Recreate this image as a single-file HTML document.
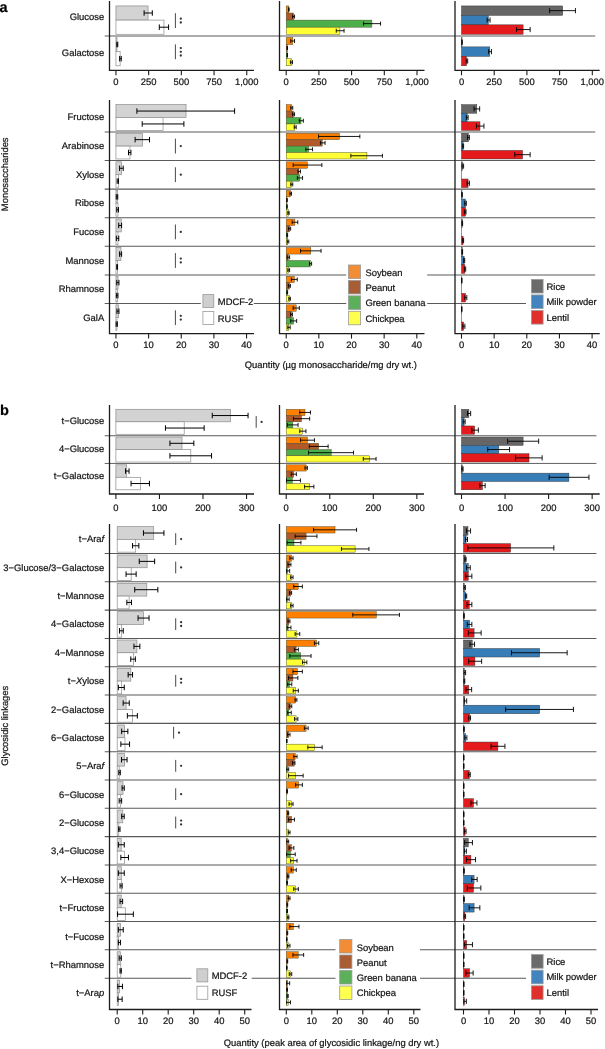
<!DOCTYPE html>
<html><head><meta charset="utf-8"><title>Figure</title>
<style>
html,body{margin:0;padding:0;background:#fff;}
body{width:605px;height:1049px;overflow:hidden;font-family:"Liberation Sans",sans-serif;}
svg{display:block;will-change:transform;}
svg text{font-family:"Liberation Sans",sans-serif;font-size:9.42px;fill:#151515;stroke:#151515;stroke-width:0.22px;text-rendering:geometricPrecision;}
</style></head><body>
<svg width="605" height="1049" viewBox="0 0 605 1049">
<rect width="605" height="1049" fill="#fff"/>
<line x1="104.7" x2="595.2" y1="35.95" y2="35.95" stroke="#5a5a5a" stroke-width="1.05"/>
<line x1="104.7" x2="595.2" y1="131.9" y2="131.9" stroke="#5a5a5a" stroke-width="1.05"/>
<line x1="104.7" x2="595.2" y1="160.5" y2="160.5" stroke="#5a5a5a" stroke-width="1.05"/>
<line x1="104.7" x2="595.2" y1="189.1" y2="189.1" stroke="#5a5a5a" stroke-width="1.05"/>
<line x1="104.7" x2="595.2" y1="217.7" y2="217.7" stroke="#5a5a5a" stroke-width="1.05"/>
<line x1="104.7" x2="595.2" y1="246.3" y2="246.3" stroke="#5a5a5a" stroke-width="1.05"/>
<line x1="104.7" x2="595.2" y1="274.9" y2="274.9" stroke="#5a5a5a" stroke-width="1.05"/>
<line x1="104.7" x2="595.2" y1="303.5" y2="303.5" stroke="#5a5a5a" stroke-width="1.05"/>
<line x1="104.7" x2="596.4" y1="435.7" y2="435.7" stroke="#5a5a5a" stroke-width="1.05"/>
<line x1="104.7" x2="596.4" y1="463.45" y2="463.45" stroke="#3a3a3a" stroke-width="0.8"/>
<line x1="104.7" x2="596.4" y1="553.5" y2="553.5" stroke="#5a5a5a" stroke-width="1.05"/>
<line x1="104.7" x2="596.4" y1="581.81" y2="581.81" stroke="#5a5a5a" stroke-width="1.05"/>
<line x1="104.7" x2="596.4" y1="610.12" y2="610.12" stroke="#5a5a5a" stroke-width="1.05"/>
<line x1="104.7" x2="596.4" y1="638.43" y2="638.43" stroke="#5a5a5a" stroke-width="1.05"/>
<line x1="104.7" x2="596.4" y1="666.74" y2="666.74" stroke="#5a5a5a" stroke-width="1.05"/>
<line x1="104.7" x2="596.4" y1="695.05" y2="695.05" stroke="#5a5a5a" stroke-width="1.05"/>
<line x1="104.7" x2="596.4" y1="723.36" y2="723.36" stroke="#5a5a5a" stroke-width="1.05"/>
<line x1="104.7" x2="596.4" y1="751.67" y2="751.67" stroke="#5a5a5a" stroke-width="1.05"/>
<line x1="104.7" x2="596.4" y1="779.98" y2="779.98" stroke="#5a5a5a" stroke-width="1.05"/>
<line x1="104.7" x2="596.4" y1="808.29" y2="808.29" stroke="#5a5a5a" stroke-width="1.05"/>
<line x1="104.7" x2="596.4" y1="836.6" y2="836.6" stroke="#5a5a5a" stroke-width="1.05"/>
<line x1="104.7" x2="596.4" y1="864.91" y2="864.91" stroke="#5a5a5a" stroke-width="1.05"/>
<line x1="104.7" x2="596.4" y1="893.22" y2="893.22" stroke="#5a5a5a" stroke-width="1.05"/>
<line x1="104.7" x2="596.4" y1="921.53" y2="921.53" stroke="#5a5a5a" stroke-width="1.05"/>
<line x1="104.7" x2="596.4" y1="949.84" y2="949.84" stroke="#5a5a5a" stroke-width="1.05"/>
<line x1="104.7" x2="596.4" y1="978.15" y2="978.15" stroke="#5a5a5a" stroke-width="1.05"/>
<rect x="200.8" y="291.6" width="53" height="37.8" fill="#fff"/>
<rect x="202.9" y="294.6" width="10.9" height="12.9" fill="#cfcfcf" stroke="#9a9a9a" stroke-width="0.8"/>
<text x="217.8" y="304.7">MDCF-2</text>
<rect x="202.9" y="311.5" width="10.9" height="12.9" fill="#ffffff" stroke="#9a9a9a" stroke-width="0.8"/>
<text x="217.8" y="321.6">RUSF</text>
<rect x="346.2" y="262" width="81" height="65.72" fill="#fff"/>
<rect x="348.4" y="265" width="12.2" height="13.5" fill="#F28D35" stroke="#9a9a9a" stroke-width="0.8"/>
<text x="365.4" y="276.2">Soybean</text>
<rect x="348.4" y="280.43" width="12.2" height="13.5" fill="#A85D34" stroke="#9a9a9a" stroke-width="0.8"/>
<text x="365.4" y="291.33">Peanut</text>
<rect x="348.4" y="295.86" width="12.2" height="13.5" fill="#5DB05A" stroke="#9a9a9a" stroke-width="0.8"/>
<text x="365.4" y="306.46">Green banana</text>
<rect x="348.4" y="311.29" width="12.2" height="13.5" fill="#FFFF4F" stroke="#9a9a9a" stroke-width="0.8"/>
<text x="365.4" y="321.59">Chickpea</text>
<rect x="526" y="276.4" width="72" height="50.65" fill="#fff"/>
<rect x="531.4" y="279.4" width="11.7" height="13.6" fill="#6b6b6b" stroke="#9a9a9a" stroke-width="0.8"/>
<text x="546.5" y="289.6">Rice</text>
<rect x="531.4" y="294.95" width="11.7" height="13.6" fill="#4484BE" stroke="#9a9a9a" stroke-width="0.8"/>
<text x="546.5" y="305.15">Milk powder</text>
<rect x="531.4" y="310.5" width="11.7" height="13.6" fill="#E0302B" stroke="#9a9a9a" stroke-width="0.8"/>
<text x="546.5" y="320.7">Lentil</text>
<rect x="191.5" y="965.8" width="60.2" height="38.8" fill="#fff"/>
<rect x="196.9" y="968.8" width="10.9" height="13.1" fill="#cfcfcf" stroke="#9a9a9a" stroke-width="0.8"/>
<text x="211.7" y="979">MDCF-2</text>
<rect x="196.9" y="986.2" width="10.9" height="13.1" fill="#ffffff" stroke="#9a9a9a" stroke-width="0.8"/>
<text x="211.7" y="996.4">RUSF</text>
<rect x="335.5" y="936.5" width="84.5" height="66" fill="#fff"/>
<rect x="339.7" y="939.5" width="12.2" height="13.5" fill="#F28D35" stroke="#9a9a9a" stroke-width="0.8"/>
<text x="356.7" y="950.6">Soybean</text>
<rect x="339.7" y="955" width="12.2" height="13.5" fill="#A85D34" stroke="#9a9a9a" stroke-width="0.8"/>
<text x="356.7" y="965.6">Peanut</text>
<rect x="339.7" y="970.5" width="12.2" height="13.5" fill="#5DB05A" stroke="#9a9a9a" stroke-width="0.8"/>
<text x="356.7" y="980.6">Green banana</text>
<rect x="339.7" y="986" width="12.2" height="13.5" fill="#FFFF4F" stroke="#9a9a9a" stroke-width="0.8"/>
<text x="356.7" y="995.6">Chickpea</text>
<rect x="526" y="951.6" width="72" height="50.8" fill="#fff"/>
<rect x="531.4" y="954.6" width="11.7" height="13.6" fill="#6b6b6b" stroke="#9a9a9a" stroke-width="0.8"/>
<text x="546.5" y="964.8">Rice</text>
<rect x="531.4" y="970.2" width="11.7" height="13.6" fill="#4484BE" stroke="#9a9a9a" stroke-width="0.8"/>
<text x="546.5" y="980.4">Milk powder</text>
<rect x="531.4" y="985.8" width="11.7" height="13.6" fill="#E0302B" stroke="#9a9a9a" stroke-width="0.8"/>
<text x="546.5" y="996">Lentil</text>
<rect x="115.95" y="5.93" width="32.1" height="14.18" fill="#d3d3d3" stroke="#8c8c8c" stroke-width="0.7"/>
<rect x="115.95" y="20.1" width="48" height="14.18" fill="#ffffff" stroke="#8c8c8c" stroke-width="0.7"/>
<rect x="115.95" y="37.42" width="1" height="14.18" fill="#d3d3d3" stroke="#8c8c8c" stroke-width="0.7"/>
<rect x="115.95" y="51.6" width="4.2" height="14.18" fill="#ffffff" stroke="#8c8c8c" stroke-width="0.7"/>
<path d="M144.1 13.01H152.3M144.1 10.26V15.76M152.3 10.26V15.76" stroke="#000" stroke-width="1.0" fill="none"/>
<path d="M159.3 27.19H168.6M159.3 24.44V29.94M168.6 24.44V29.94" stroke="#000" stroke-width="1.0" fill="none"/>
<path d="M116.85 44.51H117.75M116.85 41.76V47.26M117.75 41.76V47.26" stroke="#000" stroke-width="1.0" fill="none"/>
<path d="M119.65 58.69H121.25M119.65 55.94V61.44M121.25 55.94V61.44" stroke="#000" stroke-width="1.0" fill="none"/>
<rect x="286.2" y="5.93" width="2.6" height="7.09" fill="#FF7F00" stroke="#4a4a2a" stroke-width="0.45"/>
<rect x="286.2" y="13.01" width="7.4" height="7.09" fill="#B15928" stroke="#4a4a2a" stroke-width="0.45"/>
<rect x="286.2" y="20.1" width="85.7" height="7.09" fill="#4DAF4A" stroke="#4a4a2a" stroke-width="0.45"/>
<rect x="286.2" y="27.19" width="53.7" height="7.09" fill="#FFFF33" stroke="#4a4a2a" stroke-width="0.45"/>
<rect x="286.2" y="37.42" width="6.6" height="7.09" fill="#FF7F00" stroke="#4a4a2a" stroke-width="0.45"/>
<rect x="286.2" y="44.51" width="1" height="7.09" fill="#B15928" stroke="#4a4a2a" stroke-width="0.45"/>
<rect x="286.2" y="51.6" width="1" height="7.09" fill="#4DAF4A" stroke="#4a4a2a" stroke-width="0.45"/>
<rect x="286.2" y="58.69" width="5.3" height="7.09" fill="#FFFF33" stroke="#4a4a2a" stroke-width="0.45"/>
<path d="M288.6 9.47H289.1M288.6 7.47V11.47M289.1 7.47V11.47" stroke="#000" stroke-width="0.9" fill="none"/>
<path d="M292.55 16.56H294.55M292.55 14.56V18.56M294.55 14.56V18.56" stroke="#000" stroke-width="0.9" fill="none"/>
<path d="M363.55 23.64H380.55M363.55 21.64V25.64M380.55 21.64V25.64" stroke="#000" stroke-width="0.9" fill="none"/>
<path d="M336.25 30.73H344.05M336.25 28.73V32.73M344.05 28.73V32.73" stroke="#000" stroke-width="0.9" fill="none"/>
<path d="M290.75 40.97H294.55M290.75 38.97V42.97M294.55 38.97V42.97" stroke="#000" stroke-width="0.9" fill="none"/>
<path d="M287 48.06H287.5M287 46.06V50.06M287.5 46.06V50.06" stroke="#000" stroke-width="0.9" fill="none"/>
<path d="M287 55.14H287.5M287 53.14V57.14M287.5 53.14V57.14" stroke="#000" stroke-width="0.9" fill="none"/>
<path d="M290.4 62.23H292.5M290.4 60.23V64.23M292.5 60.23V64.23" stroke="#000" stroke-width="0.9" fill="none"/>
<rect x="461.5" y="5.93" width="101.2" height="9.45" fill="#666666" stroke="#333333" stroke-width="0.45"/>
<rect x="461.5" y="15.38" width="26.8" height="9.45" fill="#377EB8" stroke="#333333" stroke-width="0.45"/>
<rect x="461.5" y="24.83" width="61.6" height="9.45" fill="#E41A1C" stroke="#333333" stroke-width="0.45"/>
<rect x="461.5" y="37.42" width="0.5" height="9.45" fill="#666666" stroke="#333333" stroke-width="0.45"/>
<rect x="461.5" y="46.88" width="28.3" height="9.45" fill="#377EB8" stroke="#333333" stroke-width="0.45"/>
<rect x="461.5" y="56.33" width="5" height="9.45" fill="#E41A1C" stroke="#333333" stroke-width="0.45"/>
<path d="M549.65 10.65H575.45M549.65 8.05V13.25M575.45 8.05V13.25" stroke="#000" stroke-width="0.9" fill="none"/>
<path d="M487.15 20.1H490.05M487.15 17.5V22.7M490.05 17.5V22.7" stroke="#000" stroke-width="0.9" fill="none"/>
<path d="M516.55 29.55H530.15M516.55 26.95V32.15M530.15 26.95V32.15" stroke="#000" stroke-width="0.9" fill="none"/>
<path d="M461.8 42.15H462.3M461.8 39.55V44.75M462.3 39.55V44.75" stroke="#000" stroke-width="0.9" fill="none"/>
<path d="M488.65 51.6H491.45M488.65 49V54.2M491.45 49V54.2" stroke="#000" stroke-width="0.9" fill="none"/>
<path d="M466.2 61.05H467.7M466.2 58.45V63.65M467.7 58.45V63.65" stroke="#000" stroke-width="0.9" fill="none"/>
<path d="M109.5 1V70.3H254" stroke="#1c1c1c" stroke-width="1.3" fill="none"/>
<line x1="115.95" x2="115.95" y1="70.3" y2="75.3" stroke="#1c1c1c" stroke-width="1.1"/>
<text x="115.95" y="85.1" text-anchor="middle">0</text>
<line x1="148.65" x2="148.65" y1="70.3" y2="75.3" stroke="#1c1c1c" stroke-width="1.1"/>
<text x="148.65" y="85.1" text-anchor="middle">250</text>
<line x1="181.35" x2="181.35" y1="70.3" y2="75.3" stroke="#1c1c1c" stroke-width="1.1"/>
<text x="181.35" y="85.1" text-anchor="middle">500</text>
<line x1="214.05" x2="214.05" y1="70.3" y2="75.3" stroke="#1c1c1c" stroke-width="1.1"/>
<text x="214.05" y="85.1" text-anchor="middle">750</text>
<line x1="246.75" x2="246.75" y1="70.3" y2="75.3" stroke="#1c1c1c" stroke-width="1.1"/>
<text x="246.75" y="85.1" text-anchor="middle">1,000</text>
<path d="M279.5 1V70.3H424.5" stroke="#1c1c1c" stroke-width="1.3" fill="none"/>
<line x1="286.2" x2="286.2" y1="70.3" y2="75.3" stroke="#1c1c1c" stroke-width="1.1"/>
<text x="286.2" y="85.1" text-anchor="middle">0</text>
<line x1="318.9" x2="318.9" y1="70.3" y2="75.3" stroke="#1c1c1c" stroke-width="1.1"/>
<text x="318.9" y="85.1" text-anchor="middle">250</text>
<line x1="351.6" x2="351.6" y1="70.3" y2="75.3" stroke="#1c1c1c" stroke-width="1.1"/>
<text x="351.6" y="85.1" text-anchor="middle">500</text>
<line x1="384.3" x2="384.3" y1="70.3" y2="75.3" stroke="#1c1c1c" stroke-width="1.1"/>
<text x="384.3" y="85.1" text-anchor="middle">750</text>
<line x1="417" x2="417" y1="70.3" y2="75.3" stroke="#1c1c1c" stroke-width="1.1"/>
<text x="417" y="85.1" text-anchor="middle">1,000</text>
<path d="M455 1V70.3H599.7" stroke="#1c1c1c" stroke-width="1.3" fill="none"/>
<line x1="461.5" x2="461.5" y1="70.3" y2="75.3" stroke="#1c1c1c" stroke-width="1.1"/>
<text x="461.5" y="85.1" text-anchor="middle">0</text>
<line x1="494.2" x2="494.2" y1="70.3" y2="75.3" stroke="#1c1c1c" stroke-width="1.1"/>
<text x="494.2" y="85.1" text-anchor="middle">250</text>
<line x1="526.9" x2="526.9" y1="70.3" y2="75.3" stroke="#1c1c1c" stroke-width="1.1"/>
<text x="526.9" y="85.1" text-anchor="middle">500</text>
<line x1="559.6" x2="559.6" y1="70.3" y2="75.3" stroke="#1c1c1c" stroke-width="1.1"/>
<text x="559.6" y="85.1" text-anchor="middle">750</text>
<line x1="592.3" x2="592.3" y1="70.3" y2="75.3" stroke="#1c1c1c" stroke-width="1.1"/>
<text x="592.3" y="85.1" text-anchor="middle">1,000</text>
<text x="104.2" y="20.2" text-anchor="end">Glucose</text>
<text x="104.2" y="56" text-anchor="end">Galactose</text>
<rect x="115.95" y="104.63" width="70.1" height="12.87" fill="#d3d3d3" stroke="#8c8c8c" stroke-width="0.7"/>
<rect x="115.95" y="117.5" width="47.1" height="12.87" fill="#ffffff" stroke="#8c8c8c" stroke-width="0.7"/>
<rect x="115.95" y="133.23" width="26.5" height="12.87" fill="#d3d3d3" stroke="#8c8c8c" stroke-width="0.7"/>
<rect x="115.95" y="146.1" width="14" height="12.87" fill="#ffffff" stroke="#8c8c8c" stroke-width="0.7"/>
<rect x="115.95" y="161.83" width="5.5" height="12.87" fill="#d3d3d3" stroke="#8c8c8c" stroke-width="0.7"/>
<rect x="115.95" y="174.7" width="2.5" height="12.87" fill="#ffffff" stroke="#8c8c8c" stroke-width="0.7"/>
<rect x="115.95" y="190.43" width="1.5" height="12.87" fill="#d3d3d3" stroke="#8c8c8c" stroke-width="0.7"/>
<rect x="115.95" y="203.3" width="2" height="12.87" fill="#ffffff" stroke="#8c8c8c" stroke-width="0.7"/>
<rect x="115.95" y="219.03" width="5.3" height="12.87" fill="#d3d3d3" stroke="#8c8c8c" stroke-width="0.7"/>
<rect x="115.95" y="231.9" width="2" height="12.87" fill="#ffffff" stroke="#8c8c8c" stroke-width="0.7"/>
<rect x="115.95" y="247.63" width="5" height="12.87" fill="#d3d3d3" stroke="#8c8c8c" stroke-width="0.7"/>
<rect x="115.95" y="260.5" width="1.7" height="12.87" fill="#ffffff" stroke="#8c8c8c" stroke-width="0.7"/>
<rect x="115.95" y="276.23" width="2.1" height="12.87" fill="#d3d3d3" stroke="#8c8c8c" stroke-width="0.7"/>
<rect x="115.95" y="289.1" width="1.7" height="12.87" fill="#ffffff" stroke="#8c8c8c" stroke-width="0.7"/>
<rect x="115.95" y="304.83" width="2.4" height="12.87" fill="#d3d3d3" stroke="#8c8c8c" stroke-width="0.7"/>
<rect x="115.95" y="317.7" width="1" height="12.87" fill="#ffffff" stroke="#8c8c8c" stroke-width="0.7"/>
<path d="M136.9 111.06H234.6M136.9 108.31V113.81M234.6 108.31V113.81" stroke="#000" stroke-width="1.0" fill="none"/>
<path d="M142.2 123.94H183.9M142.2 121.19V126.69M183.9 121.19V126.69" stroke="#000" stroke-width="1.0" fill="none"/>
<path d="M135.1 139.66H149.5M135.1 136.91V142.41M149.5 136.91V142.41" stroke="#000" stroke-width="1.0" fill="none"/>
<path d="M128.5 152.53H130.9M128.5 149.78V155.28M130.9 149.78V155.28" stroke="#000" stroke-width="1.0" fill="none"/>
<path d="M119.6 168.26H123.2M119.6 165.51V171.01M123.2 165.51V171.01" stroke="#000" stroke-width="1.0" fill="none"/>
<path d="M117.15 181.13H118.45M117.15 178.38V183.88M118.45 178.38V183.88" stroke="#000" stroke-width="1.0" fill="none"/>
<path d="M116.25 196.87H117.75M116.25 194.12V199.62M117.75 194.12V199.62" stroke="#000" stroke-width="1.0" fill="none"/>
<path d="M116.75 209.74H118.45M116.75 206.99V212.49M118.45 206.99V212.49" stroke="#000" stroke-width="1.0" fill="none"/>
<path d="M118.7 225.47H121.6M118.7 222.72V228.22M121.6 222.72V228.22" stroke="#000" stroke-width="1.0" fill="none"/>
<path d="M116.35 238.34H118.75M116.35 235.59V241.09M118.75 235.59V241.09" stroke="#000" stroke-width="1.0" fill="none"/>
<path d="M119.6 254.06H121.6M119.6 251.31V256.81M121.6 251.31V256.81" stroke="#000" stroke-width="1.0" fill="none"/>
<path d="M116.75 266.94H117.55M116.75 264.19V269.69M117.55 264.19V269.69" stroke="#000" stroke-width="1.0" fill="none"/>
<path d="M116.75 282.67H118.95M116.75 279.92V285.42M118.95 279.92V285.42" stroke="#000" stroke-width="1.0" fill="none"/>
<path d="M116.35 295.54H117.95M116.35 292.79V298.29M117.95 292.79V298.29" stroke="#000" stroke-width="1.0" fill="none"/>
<path d="M116.95 311.27H118.95M116.95 308.52V314.02M118.95 308.52V314.02" stroke="#000" stroke-width="1.0" fill="none"/>
<path d="M116.15 324.14H117.35M116.15 321.39V326.89M117.35 321.39V326.89" stroke="#000" stroke-width="1.0" fill="none"/>
<rect x="286.2" y="104.63" width="5.3" height="6.44" fill="#FF7F00" stroke="#4a4a2a" stroke-width="0.45"/>
<rect x="286.2" y="111.06" width="7.4" height="6.44" fill="#B15928" stroke="#4a4a2a" stroke-width="0.45"/>
<rect x="286.2" y="117.5" width="14.8" height="6.44" fill="#4DAF4A" stroke="#4a4a2a" stroke-width="0.45"/>
<rect x="286.2" y="123.94" width="8.7" height="6.44" fill="#FFFF33" stroke="#4a4a2a" stroke-width="0.45"/>
<rect x="286.2" y="133.23" width="53.2" height="6.44" fill="#FF7F00" stroke="#4a4a2a" stroke-width="0.45"/>
<rect x="286.2" y="139.66" width="36" height="6.44" fill="#B15928" stroke="#4a4a2a" stroke-width="0.45"/>
<rect x="286.2" y="146.1" width="22.5" height="6.44" fill="#4DAF4A" stroke="#4a4a2a" stroke-width="0.45"/>
<rect x="286.2" y="152.53" width="80.7" height="6.44" fill="#FFFF33" stroke="#4a4a2a" stroke-width="0.45"/>
<rect x="286.2" y="161.83" width="21.2" height="6.44" fill="#FF7F00" stroke="#4a4a2a" stroke-width="0.45"/>
<rect x="286.2" y="168.26" width="12.7" height="6.44" fill="#B15928" stroke="#4a4a2a" stroke-width="0.45"/>
<rect x="286.2" y="174.7" width="13.5" height="6.44" fill="#4DAF4A" stroke="#4a4a2a" stroke-width="0.45"/>
<rect x="286.2" y="181.13" width="5.3" height="6.44" fill="#FFFF33" stroke="#4a4a2a" stroke-width="0.45"/>
<rect x="286.2" y="190.43" width="4.2" height="6.44" fill="#FF7F00" stroke="#4a4a2a" stroke-width="0.45"/>
<rect x="286.2" y="196.87" width="0.8" height="6.44" fill="#B15928" stroke="#4a4a2a" stroke-width="0.45"/>
<rect x="286.2" y="203.3" width="0.8" height="6.44" fill="#4DAF4A" stroke="#4a4a2a" stroke-width="0.45"/>
<rect x="286.2" y="209.74" width="2.1" height="6.44" fill="#FFFF33" stroke="#4a4a2a" stroke-width="0.45"/>
<rect x="286.2" y="219.03" width="8.7" height="6.44" fill="#FF7F00" stroke="#4a4a2a" stroke-width="0.45"/>
<rect x="286.2" y="225.47" width="3.4" height="6.44" fill="#B15928" stroke="#4a4a2a" stroke-width="0.45"/>
<rect x="286.2" y="231.9" width="1" height="6.44" fill="#4DAF4A" stroke="#4a4a2a" stroke-width="0.45"/>
<rect x="286.2" y="238.34" width="1.6" height="6.44" fill="#FFFF33" stroke="#4a4a2a" stroke-width="0.45"/>
<rect x="286.2" y="247.63" width="24.6" height="6.44" fill="#FF7F00" stroke="#4a4a2a" stroke-width="0.45"/>
<rect x="286.2" y="254.06" width="2.1" height="6.44" fill="#B15928" stroke="#4a4a2a" stroke-width="0.45"/>
<rect x="286.2" y="260.5" width="24" height="6.44" fill="#4DAF4A" stroke="#4a4a2a" stroke-width="0.45"/>
<rect x="286.2" y="266.94" width="2.1" height="6.44" fill="#FFFF33" stroke="#4a4a2a" stroke-width="0.45"/>
<rect x="286.2" y="276.23" width="8.2" height="6.44" fill="#FF7F00" stroke="#4a4a2a" stroke-width="0.45"/>
<rect x="286.2" y="282.67" width="3.4" height="6.44" fill="#B15928" stroke="#4a4a2a" stroke-width="0.45"/>
<rect x="286.2" y="289.1" width="1" height="6.44" fill="#4DAF4A" stroke="#4a4a2a" stroke-width="0.45"/>
<rect x="286.2" y="295.54" width="3.4" height="6.44" fill="#FFFF33" stroke="#4a4a2a" stroke-width="0.45"/>
<rect x="286.2" y="304.83" width="10" height="6.44" fill="#FF7F00" stroke="#4a4a2a" stroke-width="0.45"/>
<rect x="286.2" y="311.27" width="5.3" height="6.44" fill="#B15928" stroke="#4a4a2a" stroke-width="0.45"/>
<rect x="286.2" y="317.7" width="7.4" height="6.44" fill="#4DAF4A" stroke="#4a4a2a" stroke-width="0.45"/>
<rect x="286.2" y="324.14" width="2.6" height="6.44" fill="#FFFF33" stroke="#4a4a2a" stroke-width="0.45"/>
<path d="M290.75 107.85H292.75M290.75 105.85V109.85M292.75 105.85V109.85" stroke="#000" stroke-width="0.9" fill="none"/>
<path d="M292.55 114.28H294.55M292.55 112.28V116.28M294.55 112.28V116.28" stroke="#000" stroke-width="0.9" fill="none"/>
<path d="M299.25 120.72H303.35M299.25 118.72V122.72M303.35 118.72V122.72" stroke="#000" stroke-width="0.9" fill="none"/>
<path d="M294.2 127.15H296.2M294.2 125.15V129.15M296.2 125.15V129.15" stroke="#000" stroke-width="0.9" fill="none"/>
<path d="M318.55 136.45H359.85M318.55 134.45V138.45M359.85 134.45V138.45" stroke="#000" stroke-width="0.9" fill="none"/>
<path d="M320.45 142.88H325.05M320.45 140.88V144.88M325.05 140.88V144.88" stroke="#000" stroke-width="0.9" fill="none"/>
<path d="M305.85 149.32H312.55M305.85 147.32V151.32M312.55 147.32V151.32" stroke="#000" stroke-width="0.9" fill="none"/>
<path d="M350.85 155.75H382.45M350.85 153.75V157.75M382.45 153.75V157.75" stroke="#000" stroke-width="0.9" fill="none"/>
<path d="M293.15 165.05H321.85M293.15 163.05V167.05M321.85 163.05V167.05" stroke="#000" stroke-width="0.9" fill="none"/>
<path d="M297.95 171.48H300.45M297.95 169.48V173.48M300.45 169.48V173.48" stroke="#000" stroke-width="0.9" fill="none"/>
<path d="M297.35 177.92H302.55M297.35 175.92V179.92M302.55 175.92V179.92" stroke="#000" stroke-width="0.9" fill="none"/>
<path d="M290.75 184.35H292.75M290.75 182.35V186.35M292.75 182.35V186.35" stroke="#000" stroke-width="0.9" fill="none"/>
<path d="M289.9 193.65H291.5M289.9 191.65V195.65M291.5 191.65V195.65" stroke="#000" stroke-width="0.9" fill="none"/>
<path d="M286.8 200.08H287.2M286.8 198.08V202.08M287.2 198.08V202.08" stroke="#000" stroke-width="0.9" fill="none"/>
<path d="M286.8 206.52H287.2M286.8 204.52V208.52M287.2 204.52V208.52" stroke="#000" stroke-width="0.9" fill="none"/>
<path d="M287.8 212.95H289.1M287.8 210.95V214.95M289.1 210.95V214.95" stroke="#000" stroke-width="0.9" fill="none"/>
<path d="M292.15 222.25H297.75M292.15 220.25V224.25M297.75 220.25V224.25" stroke="#000" stroke-width="0.9" fill="none"/>
<path d="M288.65 228.68H290.65M288.65 226.68V230.68M290.65 226.68V230.68" stroke="#000" stroke-width="0.9" fill="none"/>
<path d="M286.8 235.12H287.6M286.8 233.12V237.12M287.6 233.12V237.12" stroke="#000" stroke-width="0.9" fill="none"/>
<path d="M287.2 241.55H288.8M287.2 239.55V243.55M288.8 239.55V243.55" stroke="#000" stroke-width="0.9" fill="none"/>
<path d="M300.55 250.85H321.05M300.55 248.85V252.85M321.05 248.85V252.85" stroke="#000" stroke-width="0.9" fill="none"/>
<path d="M287.2 257.28H289.6M287.2 255.28V259.28M289.6 255.28V259.28" stroke="#000" stroke-width="0.9" fill="none"/>
<path d="M309.5 263.72H311.6M309.5 261.72V265.72M311.6 261.72V265.72" stroke="#000" stroke-width="0.9" fill="none"/>
<path d="M287.8 270.15H289.6M287.8 268.15V272.15M289.6 268.15V272.15" stroke="#000" stroke-width="0.9" fill="none"/>
<path d="M291.35 279.45H297.25M291.35 277.45V281.45M297.25 277.45V281.45" stroke="#000" stroke-width="0.9" fill="none"/>
<path d="M288.3 285.88H290.4M288.3 283.88V287.88M290.4 283.88V287.88" stroke="#000" stroke-width="0.9" fill="none"/>
<path d="M286.8 292.32H287.6M286.8 290.32V294.32M287.6 290.32V294.32" stroke="#000" stroke-width="0.9" fill="none"/>
<path d="M288.8 298.75H290.4M288.8 296.75V300.75M290.4 296.75V300.75" stroke="#000" stroke-width="0.9" fill="none"/>
<path d="M293.15 308.05H299.35M293.15 306.05V310.05M299.35 306.05V310.05" stroke="#000" stroke-width="0.9" fill="none"/>
<path d="M290.55 314.48H292.45M290.55 312.48V316.48M292.45 312.48V316.48" stroke="#000" stroke-width="0.9" fill="none"/>
<path d="M290.75 320.92H296.65M290.75 318.92V322.92M296.65 318.92V322.92" stroke="#000" stroke-width="0.9" fill="none"/>
<path d="M287.8 327.35H290.2M287.8 325.35V329.35M290.2 325.35V329.35" stroke="#000" stroke-width="0.9" fill="none"/>
<rect x="461.5" y="104.63" width="15.3" height="8.58" fill="#666666" stroke="#333333" stroke-width="0.45"/>
<rect x="461.5" y="113.21" width="5.6" height="8.58" fill="#377EB8" stroke="#333333" stroke-width="0.45"/>
<rect x="461.5" y="121.79" width="18.5" height="8.58" fill="#E41A1C" stroke="#333333" stroke-width="0.45"/>
<rect x="461.5" y="133.23" width="6.9" height="8.58" fill="#666666" stroke="#333333" stroke-width="0.45"/>
<rect x="461.5" y="141.81" width="1.6" height="8.58" fill="#377EB8" stroke="#333333" stroke-width="0.45"/>
<rect x="461.5" y="150.39" width="61.1" height="8.58" fill="#E41A1C" stroke="#333333" stroke-width="0.45"/>
<rect x="461.5" y="161.83" width="1" height="8.58" fill="#666666" stroke="#333333" stroke-width="0.45"/>
<rect x="461.5" y="170.41" width="0.2" height="8.58" fill="#377EB8" stroke="#333333" stroke-width="0.45"/>
<rect x="461.5" y="178.99" width="6.6" height="8.58" fill="#E41A1C" stroke="#333333" stroke-width="0.45"/>
<rect x="461.5" y="190.43" width="0.5" height="8.58" fill="#666666" stroke="#333333" stroke-width="0.45"/>
<rect x="461.5" y="199.01" width="4" height="8.58" fill="#377EB8" stroke="#333333" stroke-width="0.45"/>
<rect x="461.5" y="207.59" width="4" height="8.58" fill="#E41A1C" stroke="#333333" stroke-width="0.45"/>
<rect x="461.5" y="219.03" width="0.8" height="8.58" fill="#666666" stroke="#333333" stroke-width="0.45"/>
<rect x="461.5" y="227.61" width="0.2" height="8.58" fill="#377EB8" stroke="#333333" stroke-width="0.45"/>
<rect x="461.5" y="236.19" width="1.6" height="8.58" fill="#E41A1C" stroke="#333333" stroke-width="0.45"/>
<rect x="461.5" y="247.63" width="0.8" height="8.58" fill="#666666" stroke="#333333" stroke-width="0.45"/>
<rect x="461.5" y="256.21" width="2.6" height="8.58" fill="#377EB8" stroke="#333333" stroke-width="0.45"/>
<rect x="461.5" y="264.79" width="3.4" height="8.58" fill="#E41A1C" stroke="#333333" stroke-width="0.45"/>
<rect x="461.5" y="276.23" width="0.3" height="8.58" fill="#666666" stroke="#333333" stroke-width="0.45"/>
<rect x="461.5" y="284.81" width="0.2" height="8.58" fill="#377EB8" stroke="#333333" stroke-width="0.45"/>
<rect x="461.5" y="293.39" width="4" height="8.58" fill="#E41A1C" stroke="#333333" stroke-width="0.45"/>
<rect x="461.5" y="304.83" width="0.3" height="8.58" fill="#666666" stroke="#333333" stroke-width="0.45"/>
<rect x="461.5" y="313.41" width="0.2" height="8.58" fill="#377EB8" stroke="#333333" stroke-width="0.45"/>
<rect x="461.5" y="321.99" width="2.1" height="8.58" fill="#E41A1C" stroke="#333333" stroke-width="0.45"/>
<path d="M474.05 108.92H479.65M474.05 106.32V111.52M479.65 106.32V111.52" stroke="#000" stroke-width="0.9" fill="none"/>
<path d="M466.3 117.5H468.1M466.3 114.9V120.1M468.1 114.9V120.1" stroke="#000" stroke-width="0.9" fill="none"/>
<path d="M476.45 126.08H483.95M476.45 123.48V128.68M483.95 123.48V128.68" stroke="#000" stroke-width="0.9" fill="none"/>
<path d="M467.45 137.52H469.35M467.45 134.92V140.12M469.35 134.92V140.12" stroke="#000" stroke-width="0.9" fill="none"/>
<path d="M462.3 146.1H463.6M462.3 143.5V148.7M463.6 143.5V148.7" stroke="#000" stroke-width="0.9" fill="none"/>
<path d="M514.75 154.68H530.15M514.75 152.08V157.28M530.15 152.08V157.28" stroke="#000" stroke-width="0.9" fill="none"/>
<path d="M462 166.12H463.6M462 163.52V168.72M463.6 163.52V168.72" stroke="#000" stroke-width="0.9" fill="none"/>
<path d="M467.1 183.28H469.4M467.1 180.68V185.88M469.4 180.68V185.88" stroke="#000" stroke-width="0.9" fill="none"/>
<path d="M461.8 194.72H462.3M461.8 192.12V197.32M462.3 192.12V197.32" stroke="#000" stroke-width="0.9" fill="none"/>
<path d="M464.7 203.3H466.3M464.7 200.7V205.9M466.3 200.7V205.9" stroke="#000" stroke-width="0.9" fill="none"/>
<path d="M464.4 211.88H466M464.4 209.28V214.48M466 209.28V214.48" stroke="#000" stroke-width="0.9" fill="none"/>
<path d="M461.9 223.32H462.6M461.9 220.72V225.92M462.6 220.72V225.92" stroke="#000" stroke-width="0.9" fill="none"/>
<path d="M462.3 240.48H463.6M462.3 237.88V243.08M463.6 237.88V243.08" stroke="#000" stroke-width="0.9" fill="none"/>
<path d="M461.9 251.92H462.6M461.9 249.32V254.52M462.6 249.32V254.52" stroke="#000" stroke-width="0.9" fill="none"/>
<path d="M463.6 260.5H464.7M463.6 257.9V263.1M464.7 257.9V263.1" stroke="#000" stroke-width="0.9" fill="none"/>
<path d="M464.4 269.08H465.7M464.4 266.48V271.68M465.7 266.48V271.68" stroke="#000" stroke-width="0.9" fill="none"/>
<path d="M461.6 280.52H462M461.6 277.92V283.12M462 277.92V283.12" stroke="#000" stroke-width="0.9" fill="none"/>
<path d="M464.7 297.68H466.8M464.7 295.08V300.28M466.8 295.08V300.28" stroke="#000" stroke-width="0.9" fill="none"/>
<path d="M461.6 309.12H462M461.6 306.52V311.72M462 306.52V311.72" stroke="#000" stroke-width="0.9" fill="none"/>
<path d="M462.8 326.28H464.9M462.8 323.68V328.88M464.9 323.68V328.88" stroke="#000" stroke-width="0.9" fill="none"/>
<path d="M109.5 100V333.6H254" stroke="#1c1c1c" stroke-width="1.3" fill="none"/>
<line x1="115.95" x2="115.95" y1="333.6" y2="338.6" stroke="#1c1c1c" stroke-width="1.1"/>
<text x="115.95" y="347.5" text-anchor="middle">0</text>
<line x1="148.6" x2="148.6" y1="333.6" y2="338.6" stroke="#1c1c1c" stroke-width="1.1"/>
<text x="148.6" y="347.5" text-anchor="middle">10</text>
<line x1="181.25" x2="181.25" y1="333.6" y2="338.6" stroke="#1c1c1c" stroke-width="1.1"/>
<text x="181.25" y="347.5" text-anchor="middle">20</text>
<line x1="213.9" x2="213.9" y1="333.6" y2="338.6" stroke="#1c1c1c" stroke-width="1.1"/>
<text x="213.9" y="347.5" text-anchor="middle">30</text>
<line x1="246.55" x2="246.55" y1="333.6" y2="338.6" stroke="#1c1c1c" stroke-width="1.1"/>
<text x="246.55" y="347.5" text-anchor="middle">40</text>
<path d="M279.5 100V333.6H424.5" stroke="#1c1c1c" stroke-width="1.3" fill="none"/>
<line x1="286.2" x2="286.2" y1="333.6" y2="338.6" stroke="#1c1c1c" stroke-width="1.1"/>
<text x="286.2" y="347.5" text-anchor="middle">0</text>
<line x1="318.85" x2="318.85" y1="333.6" y2="338.6" stroke="#1c1c1c" stroke-width="1.1"/>
<text x="318.85" y="347.5" text-anchor="middle">10</text>
<line x1="351.5" x2="351.5" y1="333.6" y2="338.6" stroke="#1c1c1c" stroke-width="1.1"/>
<text x="351.5" y="347.5" text-anchor="middle">20</text>
<line x1="384.15" x2="384.15" y1="333.6" y2="338.6" stroke="#1c1c1c" stroke-width="1.1"/>
<text x="384.15" y="347.5" text-anchor="middle">30</text>
<line x1="416.8" x2="416.8" y1="333.6" y2="338.6" stroke="#1c1c1c" stroke-width="1.1"/>
<text x="416.8" y="347.5" text-anchor="middle">40</text>
<path d="M455 100V333.6H599.7" stroke="#1c1c1c" stroke-width="1.3" fill="none"/>
<line x1="461.5" x2="461.5" y1="333.6" y2="338.6" stroke="#1c1c1c" stroke-width="1.1"/>
<text x="461.5" y="347.5" text-anchor="middle">0</text>
<line x1="494.15" x2="494.15" y1="333.6" y2="338.6" stroke="#1c1c1c" stroke-width="1.1"/>
<text x="494.15" y="347.5" text-anchor="middle">10</text>
<line x1="526.8" x2="526.8" y1="333.6" y2="338.6" stroke="#1c1c1c" stroke-width="1.1"/>
<text x="526.8" y="347.5" text-anchor="middle">20</text>
<line x1="559.45" x2="559.45" y1="333.6" y2="338.6" stroke="#1c1c1c" stroke-width="1.1"/>
<text x="559.45" y="347.5" text-anchor="middle">30</text>
<line x1="592.1" x2="592.1" y1="333.6" y2="338.6" stroke="#1c1c1c" stroke-width="1.1"/>
<text x="592.1" y="347.5" text-anchor="middle">40</text>
<text x="104.2" y="120.1" text-anchor="end">Fructose</text>
<text x="104.2" y="149.1" text-anchor="end">Arabinose</text>
<text x="104.2" y="177.7" text-anchor="end">Xylose</text>
<text x="104.2" y="206.4" text-anchor="end">Ribose</text>
<text x="104.2" y="235.05" text-anchor="end">Fucose</text>
<text x="104.2" y="263.7" text-anchor="end">Mannose</text>
<text x="104.2" y="292.35" text-anchor="end">Rhamnose</text>
<text x="104.2" y="321" text-anchor="end">GalA</text>
<rect x="115.9" y="409.31" width="114.6" height="12.49" fill="#d3d3d3" stroke="#8c8c8c" stroke-width="0.7"/>
<rect x="115.9" y="421.8" width="68.3" height="12.49" fill="#ffffff" stroke="#8c8c8c" stroke-width="0.7"/>
<rect x="115.9" y="437.06" width="66.1" height="12.49" fill="#d3d3d3" stroke="#8c8c8c" stroke-width="0.7"/>
<rect x="115.9" y="449.55" width="74.9" height="12.49" fill="#ffffff" stroke="#8c8c8c" stroke-width="0.7"/>
<rect x="115.9" y="464.81" width="10.8" height="12.49" fill="#d3d3d3" stroke="#8c8c8c" stroke-width="0.7"/>
<rect x="115.9" y="477.3" width="24.6" height="12.49" fill="#ffffff" stroke="#8c8c8c" stroke-width="0.7"/>
<path d="M212.25 415.56H248.05M212.25 412.81V418.31M248.05 412.81V418.31" stroke="#000" stroke-width="1.0" fill="none"/>
<path d="M165.45 428.04H204.15M165.45 425.29V430.79M204.15 425.29V430.79" stroke="#000" stroke-width="1.0" fill="none"/>
<path d="M169.95 443.31H193.85M169.95 440.56V446.06M193.85 440.56V446.06" stroke="#000" stroke-width="1.0" fill="none"/>
<path d="M169.95 455.79H211.55M169.95 453.04V458.54M211.55 453.04V458.54" stroke="#000" stroke-width="1.0" fill="none"/>
<path d="M125.55 471.06H129.05M125.55 468.31V473.81M129.05 468.31V473.81" stroke="#000" stroke-width="1.0" fill="none"/>
<path d="M131.05 483.54H149.45M131.05 480.79V486.29M149.45 480.79V486.29" stroke="#000" stroke-width="1.0" fill="none"/>
<rect x="286.2" y="409.31" width="18.8" height="6.24" fill="#FF7F00" stroke="#4a4a2a" stroke-width="0.45"/>
<rect x="286.2" y="415.56" width="15.3" height="6.24" fill="#B15928" stroke="#4a4a2a" stroke-width="0.45"/>
<rect x="286.2" y="421.8" width="6.6" height="6.24" fill="#4DAF4A" stroke="#4a4a2a" stroke-width="0.45"/>
<rect x="286.2" y="428.04" width="16.1" height="6.24" fill="#FFFF33" stroke="#4a4a2a" stroke-width="0.45"/>
<rect x="286.2" y="437.06" width="21.2" height="6.24" fill="#FF7F00" stroke="#4a4a2a" stroke-width="0.45"/>
<rect x="286.2" y="443.31" width="32.5" height="6.24" fill="#B15928" stroke="#4a4a2a" stroke-width="0.45"/>
<rect x="286.2" y="449.55" width="45" height="6.24" fill="#4DAF4A" stroke="#4a4a2a" stroke-width="0.45"/>
<rect x="286.2" y="455.79" width="83.3" height="6.24" fill="#FFFF33" stroke="#4a4a2a" stroke-width="0.45"/>
<rect x="286.2" y="464.81" width="20.1" height="6.24" fill="#FF7F00" stroke="#4a4a2a" stroke-width="0.45"/>
<rect x="286.2" y="471.06" width="7.5" height="6.24" fill="#B15928" stroke="#4a4a2a" stroke-width="0.45"/>
<rect x="286.2" y="477.3" width="6.1" height="6.24" fill="#4DAF4A" stroke="#4a4a2a" stroke-width="0.45"/>
<rect x="286.2" y="483.54" width="23.3" height="6.24" fill="#FFFF33" stroke="#4a4a2a" stroke-width="0.45"/>
<path d="M299.75 412.43H310.45M299.75 410.43V414.43M310.45 410.43V414.43" stroke="#000" stroke-width="0.9" fill="none"/>
<path d="M293.45 418.68H309.65M293.45 416.68V420.68M309.65 416.68V420.68" stroke="#000" stroke-width="0.9" fill="none"/>
<path d="M287.35 424.92H298.05M287.35 422.92V426.92M298.05 422.92V426.92" stroke="#000" stroke-width="0.9" fill="none"/>
<path d="M299.75 431.17H305.95M299.75 429.17V433.17M305.95 429.17V433.17" stroke="#000" stroke-width="0.9" fill="none"/>
<path d="M300.55 440.18H314.45M300.55 438.18V442.18M314.45 438.18V442.18" stroke="#000" stroke-width="0.9" fill="none"/>
<path d="M309.35 446.43H328.15M309.35 444.43V448.43M328.15 444.43V448.43" stroke="#000" stroke-width="0.9" fill="none"/>
<path d="M308.55 452.67H353.55M308.55 450.67V454.67M353.55 450.67V454.67" stroke="#000" stroke-width="0.9" fill="none"/>
<path d="M363.25 458.92H376.05M363.25 456.92V460.92M376.05 456.92V460.92" stroke="#000" stroke-width="0.9" fill="none"/>
<path d="M305 467.93H307.4M305 465.93V469.93M307.4 465.93V469.93" stroke="#000" stroke-width="0.9" fill="none"/>
<path d="M291.25 474.18H296.35M291.25 472.18V476.18M296.35 472.18V476.18" stroke="#000" stroke-width="0.9" fill="none"/>
<path d="M286.55 480.42H300.45M286.55 478.42V482.42M300.45 478.42V482.42" stroke="#000" stroke-width="0.9" fill="none"/>
<path d="M304.55 486.67H313.85M304.55 484.67V488.67M313.85 484.67V488.67" stroke="#000" stroke-width="0.9" fill="none"/>
<rect x="461.5" y="409.31" width="7.4" height="8.33" fill="#666666" stroke="#333333" stroke-width="0.45"/>
<rect x="461.5" y="417.64" width="2.6" height="8.33" fill="#377EB8" stroke="#333333" stroke-width="0.45"/>
<rect x="461.5" y="425.96" width="13.2" height="8.33" fill="#E41A1C" stroke="#333333" stroke-width="0.45"/>
<rect x="461.5" y="437.06" width="61.6" height="8.33" fill="#666666" stroke="#333333" stroke-width="0.45"/>
<rect x="461.5" y="445.39" width="37.3" height="8.33" fill="#377EB8" stroke="#333333" stroke-width="0.45"/>
<rect x="461.5" y="453.71" width="67.5" height="8.33" fill="#E41A1C" stroke="#333333" stroke-width="0.45"/>
<rect x="461.5" y="464.81" width="0.8" height="8.33" fill="#666666" stroke="#333333" stroke-width="0.45"/>
<rect x="461.5" y="473.14" width="107.4" height="8.33" fill="#377EB8" stroke="#333333" stroke-width="0.45"/>
<rect x="461.5" y="481.46" width="20.9" height="8.33" fill="#E41A1C" stroke="#333333" stroke-width="0.45"/>
<path d="M467.45 413.48H470.65M467.45 410.88V416.08M470.65 410.88V416.08" stroke="#000" stroke-width="0.9" fill="none"/>
<path d="M463.15 421.8H465.15M463.15 419.2V424.4M465.15 419.2V424.4" stroke="#000" stroke-width="0.9" fill="none"/>
<path d="M471.85 430.12H478.35M471.85 427.52V432.73M478.35 427.52V432.73" stroke="#000" stroke-width="0.9" fill="none"/>
<path d="M507.65 441.23H538.65M507.65 438.62V443.83M538.65 438.62V443.83" stroke="#000" stroke-width="0.9" fill="none"/>
<path d="M487.75 449.55H509.55M487.75 446.95V452.15M509.55 446.95V452.15" stroke="#000" stroke-width="0.9" fill="none"/>
<path d="M515.55 457.88H542.15M515.55 455.27V460.48M542.15 455.27V460.48" stroke="#000" stroke-width="0.9" fill="none"/>
<path d="M461.8 468.98H463.1M461.8 466.38V471.58M463.1 466.38V471.58" stroke="#000" stroke-width="0.9" fill="none"/>
<path d="M549.15 477.3H588.95M549.15 474.7V479.9M588.95 474.7V479.9" stroke="#000" stroke-width="0.9" fill="none"/>
<path d="M479.85 485.62H485.15M479.85 483.02V488.23M485.15 483.02V488.23" stroke="#000" stroke-width="0.9" fill="none"/>
<path d="M109.5 405V494H254" stroke="#1c1c1c" stroke-width="1.3" fill="none"/>
<line x1="115.9" x2="115.9" y1="494" y2="499" stroke="#1c1c1c" stroke-width="1.1"/>
<text x="115.9" y="510.5" text-anchor="middle">0</text>
<line x1="159.45" x2="159.45" y1="494" y2="499" stroke="#1c1c1c" stroke-width="1.1"/>
<text x="159.45" y="510.5" text-anchor="middle">100</text>
<line x1="203" x2="203" y1="494" y2="499" stroke="#1c1c1c" stroke-width="1.1"/>
<text x="203" y="510.5" text-anchor="middle">200</text>
<line x1="246.55" x2="246.55" y1="494" y2="499" stroke="#1c1c1c" stroke-width="1.1"/>
<text x="246.55" y="510.5" text-anchor="middle">300</text>
<path d="M279.5 405V494H424" stroke="#1c1c1c" stroke-width="1.3" fill="none"/>
<line x1="286.2" x2="286.2" y1="494" y2="499" stroke="#1c1c1c" stroke-width="1.1"/>
<text x="286.2" y="510.5" text-anchor="middle">0</text>
<line x1="329.75" x2="329.75" y1="494" y2="499" stroke="#1c1c1c" stroke-width="1.1"/>
<text x="329.75" y="510.5" text-anchor="middle">100</text>
<line x1="373.3" x2="373.3" y1="494" y2="499" stroke="#1c1c1c" stroke-width="1.1"/>
<text x="373.3" y="510.5" text-anchor="middle">200</text>
<line x1="416.85" x2="416.85" y1="494" y2="499" stroke="#1c1c1c" stroke-width="1.1"/>
<text x="416.85" y="510.5" text-anchor="middle">300</text>
<path d="M455 405V494H599.7" stroke="#1c1c1c" stroke-width="1.3" fill="none"/>
<line x1="461.5" x2="461.5" y1="494" y2="499" stroke="#1c1c1c" stroke-width="1.1"/>
<text x="461.5" y="510.5" text-anchor="middle">0</text>
<line x1="505.05" x2="505.05" y1="494" y2="499" stroke="#1c1c1c" stroke-width="1.1"/>
<text x="505.05" y="510.5" text-anchor="middle">100</text>
<line x1="548.6" x2="548.6" y1="494" y2="499" stroke="#1c1c1c" stroke-width="1.1"/>
<text x="548.6" y="510.5" text-anchor="middle">200</text>
<line x1="592.15" x2="592.15" y1="494" y2="499" stroke="#1c1c1c" stroke-width="1.1"/>
<text x="592.15" y="510.5" text-anchor="middle">300</text>
<text x="104.2" y="424.2" text-anchor="end">t−Glucose</text>
<text x="104.2" y="451.55" text-anchor="end">4−Glucose</text>
<text x="104.2" y="479.25" text-anchor="end">t−Galactose</text>
<rect x="117.2" y="526.65" width="36.5" height="12.75" fill="#d3d3d3" stroke="#8c8c8c" stroke-width="0.7"/>
<rect x="117.2" y="539.4" width="18.5" height="12.75" fill="#ffffff" stroke="#8c8c8c" stroke-width="0.7"/>
<rect x="117.2" y="554.99" width="29.9" height="12.75" fill="#d3d3d3" stroke="#8c8c8c" stroke-width="0.7"/>
<rect x="117.2" y="567.74" width="14" height="12.75" fill="#ffffff" stroke="#8c8c8c" stroke-width="0.7"/>
<rect x="117.2" y="583.33" width="29.6" height="12.75" fill="#d3d3d3" stroke="#8c8c8c" stroke-width="0.7"/>
<rect x="117.2" y="596.08" width="11.9" height="12.75" fill="#ffffff" stroke="#8c8c8c" stroke-width="0.7"/>
<rect x="117.2" y="611.67" width="26.4" height="12.75" fill="#d3d3d3" stroke="#8c8c8c" stroke-width="0.7"/>
<rect x="117.2" y="624.42" width="4.5" height="12.75" fill="#ffffff" stroke="#8c8c8c" stroke-width="0.7"/>
<rect x="117.2" y="640.01" width="19.7" height="12.75" fill="#d3d3d3" stroke="#8c8c8c" stroke-width="0.7"/>
<rect x="117.2" y="652.76" width="16.4" height="12.75" fill="#ffffff" stroke="#8c8c8c" stroke-width="0.7"/>
<rect x="117.2" y="668.35" width="13.6" height="12.75" fill="#d3d3d3" stroke="#8c8c8c" stroke-width="0.7"/>
<rect x="117.2" y="681.1" width="4.5" height="12.75" fill="#ffffff" stroke="#8c8c8c" stroke-width="0.7"/>
<rect x="117.2" y="696.69" width="8.9" height="12.75" fill="#d3d3d3" stroke="#8c8c8c" stroke-width="0.7"/>
<rect x="117.2" y="709.44" width="15.2" height="12.75" fill="#ffffff" stroke="#8c8c8c" stroke-width="0.7"/>
<rect x="117.2" y="725.03" width="7.4" height="12.75" fill="#d3d3d3" stroke="#8c8c8c" stroke-width="0.7"/>
<rect x="117.2" y="737.78" width="7.8" height="12.75" fill="#ffffff" stroke="#8c8c8c" stroke-width="0.7"/>
<rect x="117.2" y="753.37" width="7.4" height="12.75" fill="#d3d3d3" stroke="#8c8c8c" stroke-width="0.7"/>
<rect x="117.2" y="766.12" width="2" height="12.75" fill="#ffffff" stroke="#8c8c8c" stroke-width="0.7"/>
<rect x="117.2" y="781.71" width="5.8" height="12.75" fill="#d3d3d3" stroke="#8c8c8c" stroke-width="0.7"/>
<rect x="117.2" y="794.46" width="3.3" height="12.75" fill="#ffffff" stroke="#8c8c8c" stroke-width="0.7"/>
<rect x="117.2" y="810.05" width="5.6" height="12.75" fill="#d3d3d3" stroke="#8c8c8c" stroke-width="0.7"/>
<rect x="117.2" y="822.8" width="1.6" height="12.75" fill="#ffffff" stroke="#8c8c8c" stroke-width="0.7"/>
<rect x="117.2" y="838.39" width="4" height="12.75" fill="#d3d3d3" stroke="#8c8c8c" stroke-width="0.7"/>
<rect x="117.2" y="851.14" width="7.4" height="12.75" fill="#ffffff" stroke="#8c8c8c" stroke-width="0.7"/>
<rect x="117.2" y="866.73" width="4.1" height="12.75" fill="#d3d3d3" stroke="#8c8c8c" stroke-width="0.7"/>
<rect x="117.2" y="879.48" width="4.1" height="12.75" fill="#ffffff" stroke="#8c8c8c" stroke-width="0.7"/>
<rect x="117.2" y="895.07" width="4" height="12.75" fill="#d3d3d3" stroke="#8c8c8c" stroke-width="0.7"/>
<rect x="117.2" y="907.82" width="8.1" height="12.75" fill="#ffffff" stroke="#8c8c8c" stroke-width="0.7"/>
<rect x="117.2" y="923.41" width="3.3" height="12.75" fill="#d3d3d3" stroke="#8c8c8c" stroke-width="0.7"/>
<rect x="117.2" y="936.16" width="1.5" height="12.75" fill="#ffffff" stroke="#8c8c8c" stroke-width="0.7"/>
<rect x="117.2" y="951.75" width="3.1" height="12.75" fill="#d3d3d3" stroke="#8c8c8c" stroke-width="0.7"/>
<rect x="117.2" y="964.5" width="3.6" height="12.75" fill="#ffffff" stroke="#8c8c8c" stroke-width="0.7"/>
<rect x="117.2" y="980.09" width="2.3" height="12.75" fill="#d3d3d3" stroke="#8c8c8c" stroke-width="0.7"/>
<rect x="117.2" y="992.84" width="1.2" height="12.75" fill="#ffffff" stroke="#8c8c8c" stroke-width="0.7"/>
<path d="M143.45 533.02H163.95M143.45 530.27V535.77M163.95 530.27V535.77" stroke="#000" stroke-width="1.0" fill="none"/>
<path d="M132.55 545.78H138.85M132.55 543.03V548.53M138.85 543.03V548.53" stroke="#000" stroke-width="1.0" fill="none"/>
<path d="M139.25 561.36H154.65M139.25 558.61V564.11M154.65 558.61V564.11" stroke="#000" stroke-width="1.0" fill="none"/>
<path d="M126.05 574.12H136.15M126.05 571.37V576.87M136.15 571.37V576.87" stroke="#000" stroke-width="1.0" fill="none"/>
<path d="M134.75 589.7H157.85M134.75 586.95V592.45M157.85 586.95V592.45" stroke="#000" stroke-width="1.0" fill="none"/>
<path d="M126.85 602.46H131.45M126.85 599.71V605.21M131.45 599.71V605.21" stroke="#000" stroke-width="1.0" fill="none"/>
<path d="M138.05 618.04H149.05M138.05 615.29V620.79M149.05 615.29V620.79" stroke="#000" stroke-width="1.0" fill="none"/>
<path d="M119.55 630.8H123.25M119.55 628.05V633.55M123.25 628.05V633.55" stroke="#000" stroke-width="1.0" fill="none"/>
<path d="M133.95 646.38H139.85M133.95 643.63V649.13M139.85 643.63V649.13" stroke="#000" stroke-width="1.0" fill="none"/>
<path d="M130.75 659.14H135.35M130.75 656.39V661.89M135.35 656.39V661.89" stroke="#000" stroke-width="1.0" fill="none"/>
<path d="M128.15 674.72H132.55M128.15 671.97V677.47M132.55 671.97V677.47" stroke="#000" stroke-width="1.0" fill="none"/>
<path d="M118.35 687.48H124.25M118.35 684.73V690.23M124.25 684.73V690.23" stroke="#000" stroke-width="1.0" fill="none"/>
<path d="M123.15 703.06H129.25M123.15 700.31V705.81M129.25 700.31V705.81" stroke="#000" stroke-width="1.0" fill="none"/>
<path d="M127.35 715.82H137.35M127.35 713.07V718.57M137.35 713.07V718.57" stroke="#000" stroke-width="1.0" fill="none"/>
<path d="M121.65 731.4H127.85M121.65 728.65V734.15M127.85 728.65V734.15" stroke="#000" stroke-width="1.0" fill="none"/>
<path d="M120.85 744.16H129.55M120.85 741.41V746.91M129.55 741.41V746.91" stroke="#000" stroke-width="1.0" fill="none"/>
<path d="M121.55 759.74H127.05M121.55 756.99V762.49M127.05 756.99V762.49" stroke="#000" stroke-width="1.0" fill="none"/>
<path d="M118.8 772.5H120.3M118.8 769.75V775.25M120.3 769.75V775.25" stroke="#000" stroke-width="1.0" fill="none"/>
<path d="M122.05 788.08H124.25M122.05 785.33V790.83M124.25 785.33V790.83" stroke="#000" stroke-width="1.0" fill="none"/>
<path d="M119.15 800.84H121.65M119.15 798.09V803.59M121.65 798.09V803.59" stroke="#000" stroke-width="1.0" fill="none"/>
<path d="M121.7 816.42H124.2M121.7 813.67V819.17M124.2 813.67V819.17" stroke="#000" stroke-width="1.0" fill="none"/>
<path d="M118.7 829.18H120M118.7 826.43V831.93M120 826.43V831.93" stroke="#000" stroke-width="1.0" fill="none"/>
<path d="M118.35 844.76H124.25M118.35 842.01V847.51M124.25 842.01V847.51" stroke="#000" stroke-width="1.0" fill="none"/>
<path d="M120.85 857.52H128.45M120.85 854.77V860.27M128.45 854.77V860.27" stroke="#000" stroke-width="1.0" fill="none"/>
<path d="M118.35 873.1H124.25M118.35 870.35V875.85M124.25 870.35V875.85" stroke="#000" stroke-width="1.0" fill="none"/>
<path d="M120.05 885.86H122.15M120.05 883.11V888.61M122.15 883.11V888.61" stroke="#000" stroke-width="1.0" fill="none"/>
<path d="M120.05 901.44H122.65M120.05 898.69V904.19M122.65 898.69V904.19" stroke="#000" stroke-width="1.0" fill="none"/>
<path d="M117.55 914.2H133.35M117.55 911.45V916.95M133.35 911.45V916.95" stroke="#000" stroke-width="1.0" fill="none"/>
<path d="M118.35 929.78H123.25M118.35 927.03V932.53M123.25 927.03V932.53" stroke="#000" stroke-width="1.0" fill="none"/>
<path d="M118.35 942.54H120.45M118.35 939.79V945.29M120.45 939.79V945.29" stroke="#000" stroke-width="1.0" fill="none"/>
<path d="M119.15 958.12H121.35M119.15 955.37V960.87M121.35 955.37V960.87" stroke="#000" stroke-width="1.0" fill="none"/>
<path d="M120 970.88H121.3M120 968.13V973.63M121.3 968.13V973.63" stroke="#000" stroke-width="1.0" fill="none"/>
<path d="M117.85 986.46H122.45M117.85 983.71V989.21M122.45 983.71V989.21" stroke="#000" stroke-width="1.0" fill="none"/>
<path d="M117.85 999.22H122.15M117.85 996.47V1001.97M122.15 996.47V1001.97" stroke="#000" stroke-width="1.0" fill="none"/>
<rect x="286.3" y="526.65" width="48.7" height="6.38" fill="#FF7F00" stroke="#4a4a2a" stroke-width="0.45"/>
<rect x="286.3" y="533.02" width="19.8" height="6.38" fill="#B15928" stroke="#4a4a2a" stroke-width="0.45"/>
<rect x="286.3" y="539.4" width="7.7" height="6.38" fill="#4DAF4A" stroke="#4a4a2a" stroke-width="0.45"/>
<rect x="286.3" y="545.78" width="68.8" height="6.38" fill="#FFFF33" stroke="#4a4a2a" stroke-width="0.45"/>
<rect x="286.3" y="554.99" width="5.3" height="6.38" fill="#FF7F00" stroke="#4a4a2a" stroke-width="0.45"/>
<rect x="286.3" y="561.36" width="3.2" height="6.38" fill="#B15928" stroke="#4a4a2a" stroke-width="0.45"/>
<rect x="286.3" y="567.74" width="1" height="6.38" fill="#4DAF4A" stroke="#4a4a2a" stroke-width="0.45"/>
<rect x="286.3" y="574.12" width="5.3" height="6.38" fill="#FFFF33" stroke="#4a4a2a" stroke-width="0.45"/>
<rect x="286.3" y="583.33" width="11.9" height="6.38" fill="#FF7F00" stroke="#4a4a2a" stroke-width="0.45"/>
<rect x="286.3" y="589.7" width="4.5" height="6.38" fill="#B15928" stroke="#4a4a2a" stroke-width="0.45"/>
<rect x="286.3" y="596.08" width="1" height="6.38" fill="#4DAF4A" stroke="#4a4a2a" stroke-width="0.45"/>
<rect x="286.3" y="602.46" width="5.3" height="6.38" fill="#FFFF33" stroke="#4a4a2a" stroke-width="0.45"/>
<rect x="286.3" y="611.67" width="90" height="6.38" fill="#FF7F00" stroke="#4a4a2a" stroke-width="0.45"/>
<rect x="286.3" y="618.04" width="2.6" height="6.38" fill="#B15928" stroke="#4a4a2a" stroke-width="0.45"/>
<rect x="286.3" y="624.42" width="1.9" height="6.38" fill="#4DAF4A" stroke="#4a4a2a" stroke-width="0.45"/>
<rect x="286.3" y="630.8" width="10.6" height="6.38" fill="#FFFF33" stroke="#4a4a2a" stroke-width="0.45"/>
<rect x="286.3" y="640.01" width="30.2" height="6.38" fill="#FF7F00" stroke="#4a4a2a" stroke-width="0.45"/>
<rect x="286.3" y="646.38" width="9.8" height="6.38" fill="#B15928" stroke="#4a4a2a" stroke-width="0.45"/>
<rect x="286.3" y="652.76" width="14.3" height="6.38" fill="#4DAF4A" stroke="#4a4a2a" stroke-width="0.45"/>
<rect x="286.3" y="659.14" width="18.3" height="6.38" fill="#FFFF33" stroke="#4a4a2a" stroke-width="0.45"/>
<rect x="286.3" y="668.35" width="11.1" height="6.38" fill="#FF7F00" stroke="#4a4a2a" stroke-width="0.45"/>
<rect x="286.3" y="674.72" width="6.6" height="6.38" fill="#B15928" stroke="#4a4a2a" stroke-width="0.45"/>
<rect x="286.3" y="681.1" width="3.2" height="6.38" fill="#4DAF4A" stroke="#4a4a2a" stroke-width="0.45"/>
<rect x="286.3" y="687.48" width="9.3" height="6.38" fill="#FFFF33" stroke="#4a4a2a" stroke-width="0.45"/>
<rect x="286.3" y="696.69" width="9.3" height="6.38" fill="#FF7F00" stroke="#4a4a2a" stroke-width="0.45"/>
<rect x="286.3" y="703.06" width="4" height="6.38" fill="#B15928" stroke="#4a4a2a" stroke-width="0.45"/>
<rect x="286.3" y="709.44" width="2.6" height="6.38" fill="#4DAF4A" stroke="#4a4a2a" stroke-width="0.45"/>
<rect x="286.3" y="715.82" width="9.8" height="6.38" fill="#FFFF33" stroke="#4a4a2a" stroke-width="0.45"/>
<rect x="286.3" y="725.03" width="19.8" height="6.38" fill="#FF7F00" stroke="#4a4a2a" stroke-width="0.45"/>
<rect x="286.3" y="731.4" width="2.4" height="6.38" fill="#B15928" stroke="#4a4a2a" stroke-width="0.45"/>
<rect x="286.3" y="737.78" width="0.5" height="6.38" fill="#4DAF4A" stroke="#4a4a2a" stroke-width="0.45"/>
<rect x="286.3" y="744.16" width="28.3" height="6.38" fill="#FFFF33" stroke="#4a4a2a" stroke-width="0.45"/>
<rect x="286.3" y="753.37" width="9" height="6.38" fill="#FF7F00" stroke="#4a4a2a" stroke-width="0.45"/>
<rect x="286.3" y="759.74" width="7.9" height="6.38" fill="#B15928" stroke="#4a4a2a" stroke-width="0.45"/>
<rect x="286.3" y="766.12" width="1" height="6.38" fill="#4DAF4A" stroke="#4a4a2a" stroke-width="0.45"/>
<rect x="286.3" y="772.5" width="9" height="6.38" fill="#FFFF33" stroke="#4a4a2a" stroke-width="0.45"/>
<rect x="286.3" y="781.71" width="12.4" height="6.38" fill="#FF7F00" stroke="#4a4a2a" stroke-width="0.45"/>
<rect x="286.3" y="788.08" width="0.8" height="6.38" fill="#B15928" stroke="#4a4a2a" stroke-width="0.45"/>
<rect x="286.3" y="794.46" width="0.3" height="6.38" fill="#4DAF4A" stroke="#4a4a2a" stroke-width="0.45"/>
<rect x="286.3" y="800.84" width="5" height="6.38" fill="#FFFF33" stroke="#4a4a2a" stroke-width="0.45"/>
<rect x="286.3" y="810.05" width="1.9" height="6.38" fill="#FF7F00" stroke="#4a4a2a" stroke-width="0.45"/>
<rect x="286.3" y="816.42" width="5.3" height="6.38" fill="#B15928" stroke="#4a4a2a" stroke-width="0.45"/>
<rect x="286.3" y="822.8" width="0.3" height="6.38" fill="#4DAF4A" stroke="#4a4a2a" stroke-width="0.45"/>
<rect x="286.3" y="829.18" width="2.4" height="6.38" fill="#FFFF33" stroke="#4a4a2a" stroke-width="0.45"/>
<rect x="286.3" y="838.39" width="1" height="6.38" fill="#FF7F00" stroke="#4a4a2a" stroke-width="0.45"/>
<rect x="286.3" y="844.76" width="5" height="6.38" fill="#B15928" stroke="#4a4a2a" stroke-width="0.45"/>
<rect x="286.3" y="851.14" width="4" height="6.38" fill="#4DAF4A" stroke="#4a4a2a" stroke-width="0.45"/>
<rect x="286.3" y="857.52" width="7.1" height="6.38" fill="#FFFF33" stroke="#4a4a2a" stroke-width="0.45"/>
<rect x="286.3" y="866.73" width="7.1" height="6.38" fill="#FF7F00" stroke="#4a4a2a" stroke-width="0.45"/>
<rect x="286.3" y="873.1" width="1.9" height="6.38" fill="#B15928" stroke="#4a4a2a" stroke-width="0.45"/>
<rect x="286.3" y="879.48" width="0.8" height="6.38" fill="#4DAF4A" stroke="#4a4a2a" stroke-width="0.45"/>
<rect x="286.3" y="885.86" width="9.3" height="6.38" fill="#FFFF33" stroke="#4a4a2a" stroke-width="0.45"/>
<rect x="286.3" y="895.07" width="2.6" height="6.38" fill="#FF7F00" stroke="#4a4a2a" stroke-width="0.45"/>
<rect x="286.3" y="901.44" width="1" height="6.38" fill="#B15928" stroke="#4a4a2a" stroke-width="0.45"/>
<rect x="286.3" y="907.82" width="0.8" height="6.38" fill="#4DAF4A" stroke="#4a4a2a" stroke-width="0.45"/>
<rect x="286.3" y="914.2" width="1.9" height="6.38" fill="#FFFF33" stroke="#4a4a2a" stroke-width="0.45"/>
<rect x="286.3" y="923.41" width="7.1" height="6.38" fill="#FF7F00" stroke="#4a4a2a" stroke-width="0.45"/>
<rect x="286.3" y="929.78" width="1" height="6.38" fill="#B15928" stroke="#4a4a2a" stroke-width="0.45"/>
<rect x="286.3" y="936.16" width="0.5" height="6.38" fill="#4DAF4A" stroke="#4a4a2a" stroke-width="0.45"/>
<rect x="286.3" y="942.54" width="1.9" height="6.38" fill="#FFFF33" stroke="#4a4a2a" stroke-width="0.45"/>
<rect x="286.3" y="951.75" width="11.9" height="6.38" fill="#FF7F00" stroke="#4a4a2a" stroke-width="0.45"/>
<rect x="286.3" y="958.12" width="1" height="6.38" fill="#B15928" stroke="#4a4a2a" stroke-width="0.45"/>
<rect x="286.3" y="964.5" width="0.5" height="6.38" fill="#4DAF4A" stroke="#4a4a2a" stroke-width="0.45"/>
<rect x="286.3" y="970.88" width="4" height="6.38" fill="#FFFF33" stroke="#4a4a2a" stroke-width="0.45"/>
<rect x="286.3" y="980.09" width="1.3" height="6.38" fill="#FF7F00" stroke="#4a4a2a" stroke-width="0.45"/>
<rect x="286.3" y="986.46" width="0.8" height="6.38" fill="#B15928" stroke="#4a4a2a" stroke-width="0.45"/>
<rect x="286.3" y="992.84" width="1.3" height="6.38" fill="#4DAF4A" stroke="#4a4a2a" stroke-width="0.45"/>
<rect x="286.3" y="999.22" width="1.9" height="6.38" fill="#FFFF33" stroke="#4a4a2a" stroke-width="0.45"/>
<path d="M313.65 529.84H356.55M313.65 527.84V531.84M356.55 527.84V531.84" stroke="#000" stroke-width="0.9" fill="none"/>
<path d="M295.15 536.21H316.95M295.15 534.21V538.21M316.95 534.21V538.21" stroke="#000" stroke-width="0.9" fill="none"/>
<path d="M287.15 542.59H300.95M287.15 540.59V544.59M300.95 540.59V544.59" stroke="#000" stroke-width="0.9" fill="none"/>
<path d="M341.45 548.96H368.95M341.45 546.96V550.96M368.95 546.96V550.96" stroke="#000" stroke-width="0.9" fill="none"/>
<path d="M289.85 558.18H293.05M289.85 556.18V560.18M293.05 556.18V560.18" stroke="#000" stroke-width="0.9" fill="none"/>
<path d="M287.95 564.55H290.95M287.95 562.55V566.55M290.95 562.55V566.55" stroke="#000" stroke-width="0.9" fill="none"/>
<path d="M286.65 570.93H289.65M286.65 568.93V572.93M289.65 568.93V572.93" stroke="#000" stroke-width="0.9" fill="none"/>
<path d="M290.65 577.3H293.05M290.65 575.3V579.3M293.05 575.3V579.3" stroke="#000" stroke-width="0.9" fill="none"/>
<path d="M293.75 586.52H302.35M293.75 584.52V588.52M302.35 584.52V588.52" stroke="#000" stroke-width="0.9" fill="none"/>
<path d="M289.5 592.89H291.6M289.5 590.89V594.89M291.6 590.89V594.89" stroke="#000" stroke-width="0.9" fill="none"/>
<path d="M286.65 599.27H289.15M286.65 597.27V601.27M289.15 597.27V601.27" stroke="#000" stroke-width="0.9" fill="none"/>
<path d="M290.65 605.64H293.05M290.65 603.64V607.64M293.05 603.64V607.64" stroke="#000" stroke-width="0.9" fill="none"/>
<path d="M352.75 614.86H399.45M352.75 612.86V616.86M399.45 612.86V616.86" stroke="#000" stroke-width="0.9" fill="none"/>
<path d="M287.95 621.23H289.95M287.95 619.23V623.23M289.95 619.23V623.23" stroke="#000" stroke-width="0.9" fill="none"/>
<path d="M287.15 627.61H290.95M287.15 625.61V629.61M290.95 625.61V629.61" stroke="#000" stroke-width="0.9" fill="none"/>
<path d="M295.15 633.98H299.75M295.15 631.98V635.98M299.75 631.98V635.98" stroke="#000" stroke-width="0.9" fill="none"/>
<path d="M314.45 643.2H318.75M314.45 641.2V645.2M318.75 641.2V645.2" stroke="#000" stroke-width="0.9" fill="none"/>
<path d="M294.35 649.57H298.35M294.35 647.57V651.57M298.35 647.57V651.57" stroke="#000" stroke-width="0.9" fill="none"/>
<path d="M289.85 655.95H311.05M289.85 653.95V657.95M311.05 653.95V657.95" stroke="#000" stroke-width="0.9" fill="none"/>
<path d="M302.55 662.32H306.85M302.55 660.32V664.32M306.85 660.32V664.32" stroke="#000" stroke-width="0.9" fill="none"/>
<path d="M292.95 671.54H302.35M292.95 669.54V673.54M302.35 669.54V673.54" stroke="#000" stroke-width="0.9" fill="none"/>
<path d="M288.55 677.91H297.85M288.55 675.91V679.91M297.85 675.91V679.91" stroke="#000" stroke-width="0.9" fill="none"/>
<path d="M287.65 684.29H291.75M287.65 682.29V686.29M291.75 682.29V686.29" stroke="#000" stroke-width="0.9" fill="none"/>
<path d="M293.25 690.66H298.35M293.25 688.66V692.66M298.35 688.66V692.66" stroke="#000" stroke-width="0.9" fill="none"/>
<path d="M295 699.88H296.9M295 697.88V701.88M296.9 697.88V701.88" stroke="#000" stroke-width="0.9" fill="none"/>
<path d="M289.25 706.25H291.75M289.25 704.25V708.25M291.75 704.25V708.25" stroke="#000" stroke-width="0.9" fill="none"/>
<path d="M287.65 712.63H291.25M287.65 710.63V714.63M291.25 710.63V714.63" stroke="#000" stroke-width="0.9" fill="none"/>
<path d="M294.55 719H297.85M294.55 717V721M297.85 717V721" stroke="#000" stroke-width="0.9" fill="none"/>
<path d="M304.35 728.22H308.15M304.35 726.22V730.22M308.15 726.22V730.22" stroke="#000" stroke-width="0.9" fill="none"/>
<path d="M287.6 734.59H290M287.6 732.59V736.59M290 732.59V736.59" stroke="#000" stroke-width="0.9" fill="none"/>
<path d="M286.5 740.97H287.1M286.5 738.97V742.97M287.1 738.97V742.97" stroke="#000" stroke-width="0.9" fill="none"/>
<path d="M307.85 747.34H322.15M307.85 745.34V749.34M322.15 745.34V749.34" stroke="#000" stroke-width="0.9" fill="none"/>
<path d="M293.75 756.56H297.05M293.75 754.56V758.56M297.05 754.56V758.56" stroke="#000" stroke-width="0.9" fill="none"/>
<path d="M292.45 762.93H294.95M292.45 760.93V764.93M294.95 760.93V764.93" stroke="#000" stroke-width="0.9" fill="none"/>
<path d="M286.8 769.31H288.7M286.8 767.31V771.31M288.7 767.31V771.31" stroke="#000" stroke-width="0.9" fill="none"/>
<path d="M288.55 775.68H303.15M288.55 773.68V777.68M303.15 773.68V777.68" stroke="#000" stroke-width="0.9" fill="none"/>
<path d="M295.65 784.9H302.35M295.65 782.9V786.9M302.35 782.9V786.9" stroke="#000" stroke-width="0.9" fill="none"/>
<path d="M286.7 791.27H287.5M286.7 789.27V793.27M287.5 789.27V793.27" stroke="#000" stroke-width="0.9" fill="none"/>
<path d="M289.05 804.02H293.05M289.05 802.02V806.02M293.05 802.02V806.02" stroke="#000" stroke-width="0.9" fill="none"/>
<path d="M287.6 813.24H288.7M287.6 811.24V815.24M288.7 811.24V815.24" stroke="#000" stroke-width="0.9" fill="none"/>
<path d="M288.55 819.61H294.45M288.55 817.61V821.61M294.45 817.61V821.61" stroke="#000" stroke-width="0.9" fill="none"/>
<path d="M288.2 832.36H290M288.2 830.36V834.36M290 830.36V834.36" stroke="#000" stroke-width="0.9" fill="none"/>
<path d="M286.8 841.58H288.7M286.8 839.58V843.58M288.7 839.58V843.58" stroke="#000" stroke-width="0.9" fill="none"/>
<path d="M289.05 847.95H293.85M289.05 845.95V849.95M293.85 845.95V849.95" stroke="#000" stroke-width="0.9" fill="none"/>
<path d="M286.65 854.33H295.25M286.65 852.33V856.33M295.25 852.33V856.33" stroke="#000" stroke-width="0.9" fill="none"/>
<path d="M290.65 860.7H297.05M290.65 858.7V862.7M297.05 858.7V862.7" stroke="#000" stroke-width="0.9" fill="none"/>
<path d="M291.15 869.92H296.25M291.15 867.92V871.92M296.25 867.92V871.92" stroke="#000" stroke-width="0.9" fill="none"/>
<path d="M287.3 876.29H288.9M287.3 874.29V878.29M288.9 874.29V878.29" stroke="#000" stroke-width="0.9" fill="none"/>
<path d="M286.7 882.67H287.5M286.7 880.67V884.67M287.5 880.67V884.67" stroke="#000" stroke-width="0.9" fill="none"/>
<path d="M293.75 889.04H298.35M293.75 887.04V891.04M298.35 887.04V891.04" stroke="#000" stroke-width="0.9" fill="none"/>
<path d="M288.2 898.26H290M288.2 896.26V900.26M290 896.26V900.26" stroke="#000" stroke-width="0.9" fill="none"/>
<path d="M286.9 904.63H287.7M286.9 902.63V906.63M287.7 902.63V906.63" stroke="#000" stroke-width="0.9" fill="none"/>
<path d="M286.7 911.01H287.5M286.7 909.01V913.01M287.5 909.01V913.01" stroke="#000" stroke-width="0.9" fill="none"/>
<path d="M287.3 917.38H288.9M287.3 915.38V919.38M288.9 915.38V919.38" stroke="#000" stroke-width="0.9" fill="none"/>
<path d="M289.85 926.6H298.95M289.85 924.6V928.6M298.95 924.6V928.6" stroke="#000" stroke-width="0.9" fill="none"/>
<path d="M286.9 932.97H287.7M286.9 930.97V934.97M287.7 930.97V934.97" stroke="#000" stroke-width="0.9" fill="none"/>
<path d="M286.5 939.35H287.2M286.5 937.35V941.35M287.2 937.35V941.35" stroke="#000" stroke-width="0.9" fill="none"/>
<path d="M287.45 945.72H289.95M287.45 943.72V947.72M289.95 943.72V947.72" stroke="#000" stroke-width="0.9" fill="none"/>
<path d="M292.95 954.94H303.65M292.95 952.94V956.94M303.65 952.94V956.94" stroke="#000" stroke-width="0.9" fill="none"/>
<path d="M286.9 961.31H287.7M286.9 959.31V963.31M287.7 959.31V963.31" stroke="#000" stroke-width="0.9" fill="none"/>
<path d="M286.5 967.69H287.2M286.5 965.69V969.69M287.2 965.69V969.69" stroke="#000" stroke-width="0.9" fill="none"/>
<path d="M289.25 974.06H291.75M289.25 972.06V976.06M291.75 972.06V976.06" stroke="#000" stroke-width="0.9" fill="none"/>
<path d="M286.65 983.28H289.65M286.65 981.28V985.28M289.65 981.28V985.28" stroke="#000" stroke-width="0.9" fill="none"/>
<path d="M286.7 989.65H287.5M286.7 987.65V991.65M287.5 987.65V991.65" stroke="#000" stroke-width="0.9" fill="none"/>
<path d="M286.9 996.03H288.2M286.9 994.03V998.03M288.2 994.03V998.03" stroke="#000" stroke-width="0.9" fill="none"/>
<path d="M286.65 1002.4H290.45M286.65 1000.4V1004.4M290.45 1000.4V1004.4" stroke="#000" stroke-width="0.9" fill="none"/>
<rect x="463.5" y="526.65" width="4.5" height="8.5" fill="#666666" stroke="#333333" stroke-width="0.45"/>
<rect x="463.5" y="535.15" width="2.6" height="8.5" fill="#377EB8" stroke="#333333" stroke-width="0.45"/>
<rect x="463.5" y="543.65" width="47.1" height="8.5" fill="#E41A1C" stroke="#333333" stroke-width="0.45"/>
<rect x="463.5" y="554.99" width="1.9" height="8.5" fill="#666666" stroke="#333333" stroke-width="0.45"/>
<rect x="463.5" y="563.49" width="4.8" height="8.5" fill="#377EB8" stroke="#333333" stroke-width="0.45"/>
<rect x="463.5" y="571.99" width="4.8" height="8.5" fill="#E41A1C" stroke="#333333" stroke-width="0.45"/>
<rect x="463.5" y="583.33" width="0.8" height="8.5" fill="#666666" stroke="#333333" stroke-width="0.45"/>
<rect x="463.5" y="591.83" width="2.1" height="8.5" fill="#377EB8" stroke="#333333" stroke-width="0.45"/>
<rect x="463.5" y="600.33" width="5.8" height="8.5" fill="#E41A1C" stroke="#333333" stroke-width="0.45"/>
<rect x="463.5" y="611.67" width="0.5" height="8.5" fill="#666666" stroke="#333333" stroke-width="0.45"/>
<rect x="463.5" y="620.17" width="6.1" height="8.5" fill="#377EB8" stroke="#333333" stroke-width="0.45"/>
<rect x="463.5" y="628.67" width="10.6" height="8.5" fill="#E41A1C" stroke="#333333" stroke-width="0.45"/>
<rect x="463.5" y="640.01" width="8.7" height="8.5" fill="#666666" stroke="#333333" stroke-width="0.45"/>
<rect x="463.5" y="648.51" width="76.2" height="8.5" fill="#377EB8" stroke="#333333" stroke-width="0.45"/>
<rect x="463.5" y="657.01" width="11.4" height="8.5" fill="#E41A1C" stroke="#333333" stroke-width="0.45"/>
<rect x="463.5" y="668.35" width="0.8" height="8.5" fill="#666666" stroke="#333333" stroke-width="0.45"/>
<rect x="463.5" y="676.85" width="0.8" height="8.5" fill="#377EB8" stroke="#333333" stroke-width="0.45"/>
<rect x="463.5" y="685.35" width="5.3" height="8.5" fill="#E41A1C" stroke="#333333" stroke-width="0.45"/>
<rect x="463.5" y="696.69" width="1.3" height="8.5" fill="#666666" stroke="#333333" stroke-width="0.45"/>
<rect x="463.5" y="705.19" width="76.2" height="8.5" fill="#377EB8" stroke="#333333" stroke-width="0.45"/>
<rect x="463.5" y="713.69" width="6.1" height="8.5" fill="#E41A1C" stroke="#333333" stroke-width="0.45"/>
<rect x="463.5" y="725.03" width="0.5" height="8.5" fill="#666666" stroke="#333333" stroke-width="0.45"/>
<rect x="463.5" y="733.53" width="2.1" height="8.5" fill="#377EB8" stroke="#333333" stroke-width="0.45"/>
<rect x="463.5" y="742.03" width="34.4" height="8.5" fill="#E41A1C" stroke="#333333" stroke-width="0.45"/>
<rect x="463.5" y="753.37" width="0.3" height="8.5" fill="#666666" stroke="#333333" stroke-width="0.45"/>
<rect x="463.5" y="761.87" width="0.3" height="8.5" fill="#377EB8" stroke="#333333" stroke-width="0.45"/>
<rect x="463.5" y="770.37" width="5.8" height="8.5" fill="#E41A1C" stroke="#333333" stroke-width="0.45"/>
<rect x="463.5" y="781.71" width="0.3" height="8.5" fill="#666666" stroke="#333333" stroke-width="0.45"/>
<rect x="463.5" y="790.21" width="0.3" height="8.5" fill="#377EB8" stroke="#333333" stroke-width="0.45"/>
<rect x="463.5" y="798.71" width="10" height="8.5" fill="#E41A1C" stroke="#333333" stroke-width="0.45"/>
<rect x="463.5" y="810.05" width="0.3" height="8.5" fill="#666666" stroke="#333333" stroke-width="0.45"/>
<rect x="463.5" y="818.55" width="0.3" height="8.5" fill="#377EB8" stroke="#333333" stroke-width="0.45"/>
<rect x="463.5" y="827.05" width="1.6" height="8.5" fill="#E41A1C" stroke="#333333" stroke-width="0.45"/>
<rect x="463.5" y="838.39" width="4.8" height="8.5" fill="#666666" stroke="#333333" stroke-width="0.45"/>
<rect x="463.5" y="846.89" width="1.3" height="8.5" fill="#377EB8" stroke="#333333" stroke-width="0.45"/>
<rect x="463.5" y="855.39" width="7.4" height="8.5" fill="#E41A1C" stroke="#333333" stroke-width="0.45"/>
<rect x="463.5" y="866.73" width="0.5" height="8.5" fill="#666666" stroke="#333333" stroke-width="0.45"/>
<rect x="463.5" y="875.23" width="10.6" height="8.5" fill="#377EB8" stroke="#333333" stroke-width="0.45"/>
<rect x="463.5" y="883.73" width="10" height="8.5" fill="#E41A1C" stroke="#333333" stroke-width="0.45"/>
<rect x="463.5" y="895.07" width="0.5" height="8.5" fill="#666666" stroke="#333333" stroke-width="0.45"/>
<rect x="463.5" y="903.57" width="10.6" height="8.5" fill="#377EB8" stroke="#333333" stroke-width="0.45"/>
<rect x="463.5" y="912.07" width="1.3" height="8.5" fill="#E41A1C" stroke="#333333" stroke-width="0.45"/>
<rect x="463.5" y="923.41" width="0.3" height="8.5" fill="#666666" stroke="#333333" stroke-width="0.45"/>
<rect x="463.5" y="931.91" width="0.3" height="8.5" fill="#377EB8" stroke="#333333" stroke-width="0.45"/>
<rect x="463.5" y="940.41" width="3.2" height="8.5" fill="#E41A1C" stroke="#333333" stroke-width="0.45"/>
<rect x="463.5" y="951.75" width="0.3" height="8.5" fill="#666666" stroke="#333333" stroke-width="0.45"/>
<rect x="463.5" y="960.25" width="0.3" height="8.5" fill="#377EB8" stroke="#333333" stroke-width="0.45"/>
<rect x="463.5" y="968.75" width="6.1" height="8.5" fill="#E41A1C" stroke="#333333" stroke-width="0.45"/>
<rect x="463.5" y="980.09" width="0.3" height="8.5" fill="#666666" stroke="#333333" stroke-width="0.45"/>
<rect x="463.5" y="988.59" width="0.3" height="8.5" fill="#377EB8" stroke="#333333" stroke-width="0.45"/>
<rect x="463.5" y="997.09" width="0.8" height="8.5" fill="#E41A1C" stroke="#333333" stroke-width="0.45"/>
<path d="M466.45 530.9H470.55M466.45 528.3V533.5M470.55 528.3V533.5" stroke="#000" stroke-width="0.9" fill="none"/>
<path d="M465.4 539.4H467.5M465.4 536.8V542M467.5 536.8V542" stroke="#000" stroke-width="0.9" fill="none"/>
<path d="M467.85 547.9H553.85M467.85 545.3V550.5M553.85 545.3V550.5" stroke="#000" stroke-width="0.9" fill="none"/>
<path d="M464.8 559.24H466.1M464.8 556.64V561.84M466.1 556.64V561.84" stroke="#000" stroke-width="0.9" fill="none"/>
<path d="M466.45 567.74H470.25M466.45 565.14V570.34M470.25 565.14V570.34" stroke="#000" stroke-width="0.9" fill="none"/>
<path d="M465.75 576.24H471.85M465.75 573.64V578.84M471.85 573.64V578.84" stroke="#000" stroke-width="0.9" fill="none"/>
<path d="M464 587.58H465.4M464 584.98V590.18M465.4 584.98V590.18" stroke="#000" stroke-width="0.9" fill="none"/>
<path d="M465.4 596.08H466.7M465.4 593.48V598.68M466.7 593.48V598.68" stroke="#000" stroke-width="0.9" fill="none"/>
<path d="M467.05 604.58H471.85M467.05 601.98V607.18M471.85 601.98V607.18" stroke="#000" stroke-width="0.9" fill="none"/>
<path d="M463.7 615.92H464.3M463.7 613.32V618.52M464.3 613.32V618.52" stroke="#000" stroke-width="0.9" fill="none"/>
<path d="M467.25 624.42H471.85M467.25 621.82V627.02M471.85 621.82V627.02" stroke="#000" stroke-width="0.9" fill="none"/>
<path d="M468.35 632.92H481.15M468.35 630.32V635.52M481.15 630.32V635.52" stroke="#000" stroke-width="0.9" fill="none"/>
<path d="M469.95 644.26H474.55M469.95 641.66V646.86M474.55 641.66V646.86" stroke="#000" stroke-width="0.9" fill="none"/>
<path d="M511.45 652.76H567.15M511.45 650.16V655.36M567.15 650.16V655.36" stroke="#000" stroke-width="0.9" fill="none"/>
<path d="M468.65 661.26H481.65M468.65 658.66V663.86M481.65 658.66V663.86" stroke="#000" stroke-width="0.9" fill="none"/>
<path d="M464 672.6H465.6M464 670V675.2M465.6 670V675.2" stroke="#000" stroke-width="0.9" fill="none"/>
<path d="M463.9 681.1H464.8M463.9 678.5V683.7M464.8 678.5V683.7" stroke="#000" stroke-width="0.9" fill="none"/>
<path d="M465.95 689.6H471.65M465.95 687V692.2M471.65 687V692.2" stroke="#000" stroke-width="0.9" fill="none"/>
<path d="M464.3 700.94H466.7M464.3 698.34V703.54M466.7 698.34V703.54" stroke="#000" stroke-width="0.9" fill="none"/>
<path d="M505.65 709.44H573.45M505.65 706.84V712.04M573.45 706.84V712.04" stroke="#000" stroke-width="0.9" fill="none"/>
<path d="M468.65 717.94H470.55M468.65 715.34V720.54M470.55 715.34V720.54" stroke="#000" stroke-width="0.9" fill="none"/>
<path d="M463.7 729.28H464.3M463.7 726.68V731.88M464.3 726.68V731.88" stroke="#000" stroke-width="0.9" fill="none"/>
<path d="M464.8 737.78H466.9M464.8 735.18V740.38M466.9 735.18V740.38" stroke="#000" stroke-width="0.9" fill="none"/>
<path d="M491.05 746.28H504.95M491.05 743.68V748.88M504.95 743.68V748.88" stroke="#000" stroke-width="0.9" fill="none"/>
<path d="M463.6 757.62H464M463.6 755.02V760.22M464 755.02V760.22" stroke="#000" stroke-width="0.9" fill="none"/>
<path d="M463.6 766.12H464M463.6 763.52V768.72M464 763.52V768.72" stroke="#000" stroke-width="0.9" fill="none"/>
<path d="M468.35 774.62H470.25M468.35 772.02V777.22M470.25 772.02V777.22" stroke="#000" stroke-width="0.9" fill="none"/>
<path d="M463.6 785.96H464M463.6 783.36V788.56M464 783.36V788.56" stroke="#000" stroke-width="0.9" fill="none"/>
<path d="M463.6 794.46H464M463.6 791.86V797.06M464 791.86V797.06" stroke="#000" stroke-width="0.9" fill="none"/>
<path d="M470.95 802.96H476.95M470.95 800.36V805.56M476.95 800.36V805.56" stroke="#000" stroke-width="0.9" fill="none"/>
<path d="M463.6 814.3H464M463.6 811.7V816.9M464 811.7V816.9" stroke="#000" stroke-width="0.9" fill="none"/>
<path d="M463.6 822.8H464M463.6 820.2V825.4M464 820.2V825.4" stroke="#000" stroke-width="0.9" fill="none"/>
<path d="M464.3 831.3H466.1M464.3 828.7V833.9M466.1 828.7V833.9" stroke="#000" stroke-width="0.9" fill="none"/>
<path d="M464.65 842.64H472.45M464.65 840.04V845.24M472.45 840.04V845.24" stroke="#000" stroke-width="0.9" fill="none"/>
<path d="M464.35 851.14H466.35M464.35 848.54V853.74M466.35 848.54V853.74" stroke="#000" stroke-width="0.9" fill="none"/>
<path d="M466.45 859.64H475.55M466.45 857.04V862.24M475.55 857.04V862.24" stroke="#000" stroke-width="0.9" fill="none"/>
<path d="M463.7 870.98H464.3M463.7 868.38V873.58M464.3 868.38V873.58" stroke="#000" stroke-width="0.9" fill="none"/>
<path d="M471.75 879.48H477.15M471.75 876.88V882.08M477.15 876.88V882.08" stroke="#000" stroke-width="0.9" fill="none"/>
<path d="M467.25 887.98H480.85M467.25 885.38V890.58M480.85 885.38V890.58" stroke="#000" stroke-width="0.9" fill="none"/>
<path d="M463.7 899.32H464.3M463.7 896.72V901.92M464.3 896.72V901.92" stroke="#000" stroke-width="0.9" fill="none"/>
<path d="M469.15 907.82H479.85M469.15 905.22V910.42M479.85 905.22V910.42" stroke="#000" stroke-width="0.9" fill="none"/>
<path d="M464 916.32H465.6M464 913.72V918.92M465.6 913.72V918.92" stroke="#000" stroke-width="0.9" fill="none"/>
<path d="M463.6 927.66H464M463.6 925.06V930.26M464 925.06V930.26" stroke="#000" stroke-width="0.9" fill="none"/>
<path d="M463.6 936.16H464M463.6 933.56V938.76M464 933.56V938.76" stroke="#000" stroke-width="0.9" fill="none"/>
<path d="M464.35 944.66H472.45M464.35 942.06V947.26M472.45 942.06V947.26" stroke="#000" stroke-width="0.9" fill="none"/>
<path d="M463.6 956H464M463.6 953.4V958.6M464 953.4V958.6" stroke="#000" stroke-width="0.9" fill="none"/>
<path d="M463.6 964.5H464M463.6 961.9V967.1M464 961.9V967.1" stroke="#000" stroke-width="0.9" fill="none"/>
<path d="M465.95 973H473.15M465.95 970.4V975.6M473.15 970.4V975.6" stroke="#000" stroke-width="0.9" fill="none"/>
<path d="M463.6 984.34H464M463.6 981.74V986.94M464 981.74V986.94" stroke="#000" stroke-width="0.9" fill="none"/>
<path d="M463.6 992.84H464M463.6 990.24V995.44M464 990.24V995.44" stroke="#000" stroke-width="0.9" fill="none"/>
<path d="M463.85 1001.34H466.35M463.85 998.74V1003.94M466.35 998.74V1003.94" stroke="#000" stroke-width="0.9" fill="none"/>
<path d="M109.5 524.1V1009.5H251.5" stroke="#1c1c1c" stroke-width="1.3" fill="none"/>
<line x1="117.2" x2="117.2" y1="1009.5" y2="1014.5" stroke="#1c1c1c" stroke-width="1.1"/>
<text x="117.2" y="1024.2" text-anchor="middle">0</text>
<line x1="142.7" x2="142.7" y1="1009.5" y2="1014.5" stroke="#1c1c1c" stroke-width="1.1"/>
<text x="142.7" y="1024.2" text-anchor="middle">10</text>
<line x1="168.2" x2="168.2" y1="1009.5" y2="1014.5" stroke="#1c1c1c" stroke-width="1.1"/>
<text x="168.2" y="1024.2" text-anchor="middle">20</text>
<line x1="193.7" x2="193.7" y1="1009.5" y2="1014.5" stroke="#1c1c1c" stroke-width="1.1"/>
<text x="193.7" y="1024.2" text-anchor="middle">30</text>
<line x1="219.2" x2="219.2" y1="1009.5" y2="1014.5" stroke="#1c1c1c" stroke-width="1.1"/>
<text x="219.2" y="1024.2" text-anchor="middle">40</text>
<line x1="244.7" x2="244.7" y1="1009.5" y2="1014.5" stroke="#1c1c1c" stroke-width="1.1"/>
<text x="244.7" y="1024.2" text-anchor="middle">50</text>
<path d="M279.5 524.1V1009.5H420.5" stroke="#1c1c1c" stroke-width="1.3" fill="none"/>
<line x1="286.3" x2="286.3" y1="1009.5" y2="1014.5" stroke="#1c1c1c" stroke-width="1.1"/>
<text x="286.3" y="1024.2" text-anchor="middle">0</text>
<line x1="311.8" x2="311.8" y1="1009.5" y2="1014.5" stroke="#1c1c1c" stroke-width="1.1"/>
<text x="311.8" y="1024.2" text-anchor="middle">10</text>
<line x1="337.3" x2="337.3" y1="1009.5" y2="1014.5" stroke="#1c1c1c" stroke-width="1.1"/>
<text x="337.3" y="1024.2" text-anchor="middle">20</text>
<line x1="362.8" x2="362.8" y1="1009.5" y2="1014.5" stroke="#1c1c1c" stroke-width="1.1"/>
<text x="362.8" y="1024.2" text-anchor="middle">30</text>
<line x1="388.3" x2="388.3" y1="1009.5" y2="1014.5" stroke="#1c1c1c" stroke-width="1.1"/>
<text x="388.3" y="1024.2" text-anchor="middle">40</text>
<line x1="413.8" x2="413.8" y1="1009.5" y2="1014.5" stroke="#1c1c1c" stroke-width="1.1"/>
<text x="413.8" y="1024.2" text-anchor="middle">50</text>
<path d="M455 524.1V1009.5H598" stroke="#1c1c1c" stroke-width="1.3" fill="none"/>
<line x1="463.5" x2="463.5" y1="1009.5" y2="1014.5" stroke="#1c1c1c" stroke-width="1.1"/>
<text x="463.5" y="1024.2" text-anchor="middle">0</text>
<line x1="489" x2="489" y1="1009.5" y2="1014.5" stroke="#1c1c1c" stroke-width="1.1"/>
<text x="489" y="1024.2" text-anchor="middle">10</text>
<line x1="514.5" x2="514.5" y1="1009.5" y2="1014.5" stroke="#1c1c1c" stroke-width="1.1"/>
<text x="514.5" y="1024.2" text-anchor="middle">20</text>
<line x1="540" x2="540" y1="1009.5" y2="1014.5" stroke="#1c1c1c" stroke-width="1.1"/>
<text x="540" y="1024.2" text-anchor="middle">30</text>
<line x1="565.5" x2="565.5" y1="1009.5" y2="1014.5" stroke="#1c1c1c" stroke-width="1.1"/>
<text x="565.5" y="1024.2" text-anchor="middle">40</text>
<line x1="591" x2="591" y1="1009.5" y2="1014.5" stroke="#1c1c1c" stroke-width="1.1"/>
<text x="591" y="1024.2" text-anchor="middle">50</text>
<text x="104.2" y="542.2" text-anchor="end">t−Ara<tspan font-style="italic">f</tspan></text>
<text x="104.2" y="570.59" text-anchor="end">3−Glucose/3−Galactose</text>
<text x="104.2" y="598.98" text-anchor="end">t−Mannose</text>
<text x="104.2" y="627.37" text-anchor="end">4−Galactose</text>
<text x="104.2" y="655.76" text-anchor="end">4−Mannose</text>
<text x="104.2" y="684.15" text-anchor="end">t−<tspan font-style="italic">X</tspan>ylose</text>
<text x="104.2" y="712.54" text-anchor="end">2−Galactose</text>
<text x="104.2" y="740.93" text-anchor="end">6−Galactose</text>
<text x="104.2" y="769.32" text-anchor="end">5−Ara<tspan font-style="italic">f</tspan></text>
<text x="104.2" y="797.71" text-anchor="end">6−Glucose</text>
<text x="104.2" y="826.1" text-anchor="end">2−Glucose</text>
<text x="104.2" y="854.49" text-anchor="end">3,4−Glucose</text>
<text x="104.2" y="882.88" text-anchor="end">X−Hexose</text>
<text x="104.2" y="911.27" text-anchor="end">t−Fructose</text>
<text x="104.2" y="939.66" text-anchor="end">t−Fucose</text>
<text x="104.2" y="968.05" text-anchor="end">t−Rhamnose</text>
<text x="104.2" y="996.44" text-anchor="end">t−Ara<tspan font-style="italic">p</tspan></text>
<line x1="175.4" x2="175.4" y1="13.2" y2="28" stroke="#333" stroke-width="0.9"/>
<circle cx="180.8" cy="18.7" r="1.15" fill="#333"/>
<circle cx="180.8" cy="22.5" r="1.15" fill="#333"/>
<line x1="175.4" x2="175.4" y1="44.4" y2="59.2" stroke="#333" stroke-width="0.9"/>
<circle cx="180.8" cy="48.1" r="1.15" fill="#333"/>
<circle cx="180.8" cy="51.8" r="1.15" fill="#333"/>
<circle cx="180.8" cy="55.5" r="1.15" fill="#333"/>
<line x1="175.4" x2="175.4" y1="138.7" y2="153.5" stroke="#333" stroke-width="0.9"/>
<circle cx="180.8" cy="146.1" r="1.15" fill="#333"/>
<line x1="175.4" x2="175.4" y1="167.3" y2="182.1" stroke="#333" stroke-width="0.9"/>
<circle cx="180.8" cy="174.7" r="1.15" fill="#333"/>
<line x1="175.4" x2="175.4" y1="224.5" y2="239.3" stroke="#333" stroke-width="0.9"/>
<circle cx="180.8" cy="231.9" r="1.15" fill="#333"/>
<line x1="175.4" x2="175.4" y1="253.1" y2="267.9" stroke="#333" stroke-width="0.9"/>
<circle cx="180.8" cy="258.6" r="1.15" fill="#333"/>
<circle cx="180.8" cy="262.4" r="1.15" fill="#333"/>
<line x1="175.4" x2="175.4" y1="310.3" y2="325.1" stroke="#333" stroke-width="0.9"/>
<circle cx="180.8" cy="315.8" r="1.15" fill="#333"/>
<circle cx="180.8" cy="319.6" r="1.15" fill="#333"/>
<line x1="256.2" x2="256.2" y1="416.05" y2="427.75" stroke="#333" stroke-width="0.9"/>
<circle cx="261.6" cy="421.9" r="1.15" fill="#333"/>
<line x1="175.7" x2="175.7" y1="533.2" y2="545" stroke="#333" stroke-width="0.9"/>
<circle cx="181.1" cy="539.1" r="1.15" fill="#333"/>
<line x1="175.7" x2="175.7" y1="561.54" y2="573.34" stroke="#333" stroke-width="0.9"/>
<circle cx="181.1" cy="567.44" r="1.15" fill="#333"/>
<line x1="175.7" x2="175.7" y1="618.22" y2="630.02" stroke="#333" stroke-width="0.9"/>
<circle cx="181.1" cy="622.22" r="1.15" fill="#333"/>
<circle cx="181.1" cy="626.02" r="1.15" fill="#333"/>
<line x1="175.7" x2="175.7" y1="674.9" y2="686.7" stroke="#333" stroke-width="0.9"/>
<circle cx="181.1" cy="678.9" r="1.15" fill="#333"/>
<circle cx="181.1" cy="682.7" r="1.15" fill="#333"/>
<line x1="175.7" x2="175.7" y1="759.92" y2="771.72" stroke="#333" stroke-width="0.9"/>
<circle cx="181.1" cy="765.82" r="1.15" fill="#333"/>
<line x1="175.7" x2="175.7" y1="788.26" y2="800.06" stroke="#333" stroke-width="0.9"/>
<circle cx="181.1" cy="794.16" r="1.15" fill="#333"/>
<line x1="175.7" x2="175.7" y1="816.6" y2="828.4" stroke="#333" stroke-width="0.9"/>
<circle cx="181.1" cy="820.6" r="1.15" fill="#333"/>
<circle cx="181.1" cy="824.4" r="1.15" fill="#333"/>
<line x1="173.6" x2="173.6" y1="726.78" y2="738.58" stroke="#333" stroke-width="0.9"/>
<circle cx="179" cy="732.68" r="1.15" fill="#333"/>
<text x="330.9" y="368.1" text-anchor="middle">Quantity (µg monosaccharide/mg dry wt.)</text>
<text x="331.4" y="1045.6" text-anchor="middle">Quantity (peak area of glycosidic linkage/ng dry wt.)</text>
<text transform="translate(8.1 174.3) rotate(-90)" text-anchor="middle">Monosaccharides</text>
<text transform="translate(8.3 725.7) rotate(-90)" text-anchor="middle">Glycosidic linkages</text>
<text x="-0.5" y="11.7" style="font-weight:bold;font-size:14.5px;fill:#000">a</text>
<text x="0" y="415.1" style="font-weight:bold;font-size:14.5px;fill:#000">b</text>
</svg>
</body></html>
